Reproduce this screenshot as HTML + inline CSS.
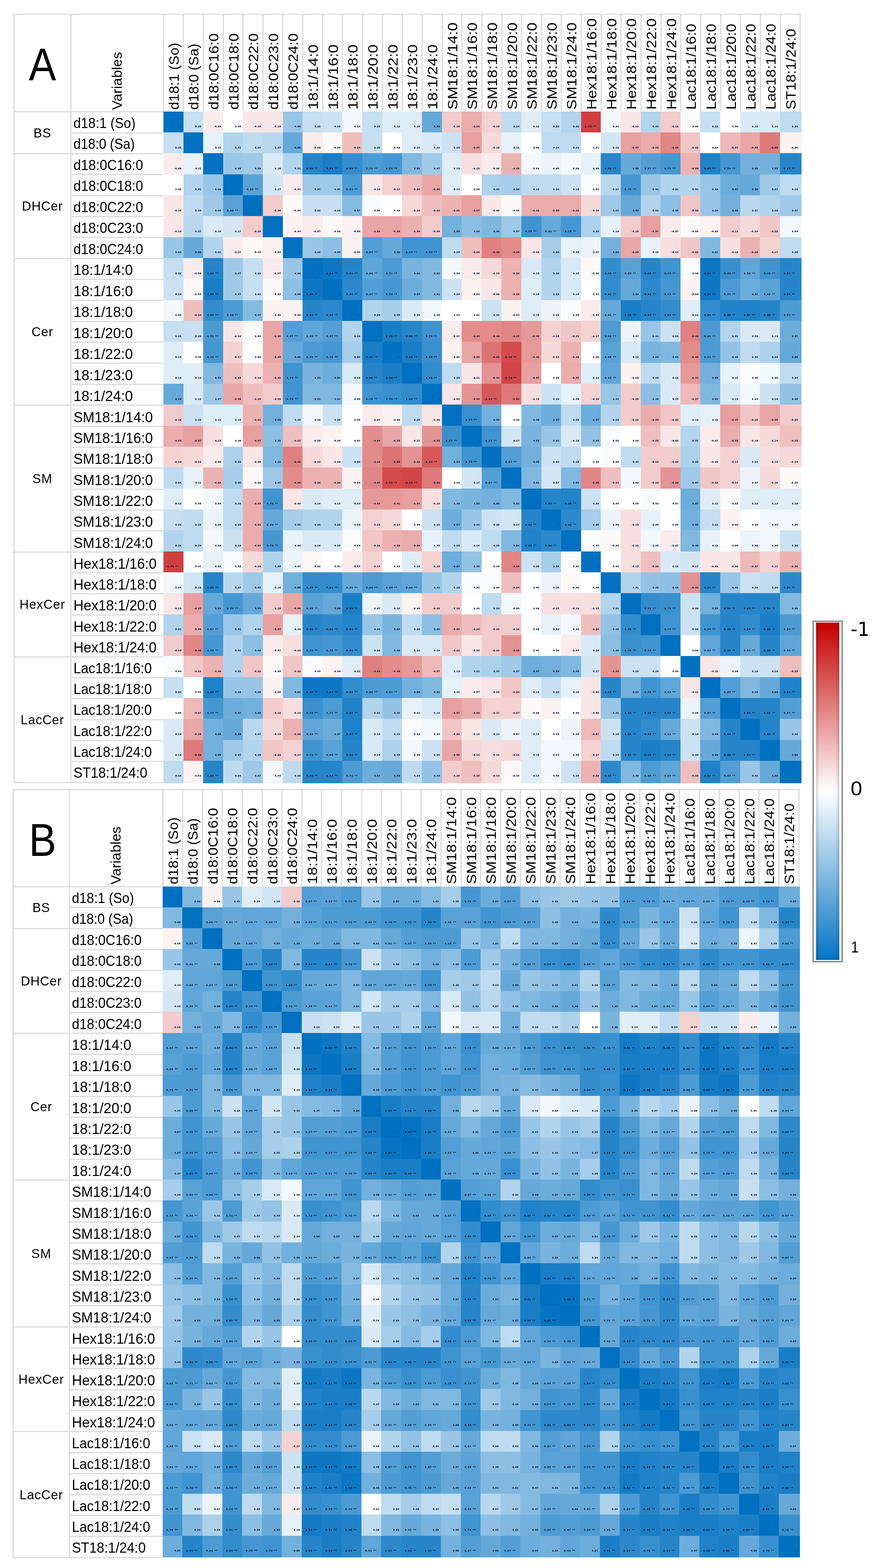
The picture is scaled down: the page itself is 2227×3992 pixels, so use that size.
<!DOCTYPE html>
<html lang="en"><head><meta charset="utf-8"><title>Sphingolipid correlation heatmaps</title>
<style>
html,body{margin:0;padding:0;background:#fff}
body{width:2227px;height:3992px;position:relative;overflow:hidden;font-family:"Liberation Sans",sans-serif;color:#000}
.t{position:absolute;left:0;top:0}
.b{position:absolute;background:#dbdbdb}
.hm{position:absolute;display:grid}
.hm i{display:block;font-style:normal;font-size:4.6px;line-height:6px;text-align:right;color:#02102c;padding:36.5px 4px 0 0;overflow:hidden;white-space:nowrap;letter-spacing:1.7px;font-weight:bold;-webkit-text-stroke:0.55px #02102c}
.hm i.L{padding-right:11px;letter-spacing:2.2px}
.hm i.D{color:#0a4a86;-webkit-text-stroke:0.2px #0a4a86}
.hm i:nth-child(32n){padding-right:8px}
.hm i.L:nth-child(32n){padding-right:15px}
.rl{position:absolute;white-space:nowrap;font-size:34.6px;transform-origin:0 50%}
.gl{position:absolute;white-space:nowrap;font-size:32.5px;text-align:center;letter-spacing:1px}
.ch{position:absolute;white-space:nowrap;font-size:34.6px;transform-origin:0 0}
.big{position:absolute;white-space:nowrap;font-size:116px;text-align:center;transform:scale(0.9,1)}
.cbl{position:absolute;white-space:nowrap}
.n10{background:#efbfbf}
.n11{background:#eeb9b9}
.n12{background:#ecb2b2}
.n13{background:#ebacac}
.n14{background:#e9a6a6}
.n15{background:#e79f9f}
.n16{background:#e69999}
.n17{background:#e49393}
.n18{background:#e38c8c}
.n19{background:#e18686}
.n1{background:#fdf9f9}
.n20{background:#e08080}
.n21{background:#de7979}
.n22{background:#dc7373}
.n26{background:#d65959}
.n28{background:#d34c4c}
.n29{background:#d14646}
.n2{background:#fcf2f2}
.n30{background:#d04040}
.n3{background:#faecec}
.n4{background:#f9e6e6}
.n5{background:#f7dfdf}
.n6{background:#f6d9d9}
.n7{background:#f4d2d2}
.n8{background:#f2cccc}
.n9{background:#f1c6c6}
.p0{background:#ffffff}
.p10{background:#bfdbef}
.p11{background:#b9d8ee}
.p12{background:#b2d4ec}
.p13{background:#acd1eb}
.p14{background:#a6cde9}
.p15{background:#9fc9e7}
.p16{background:#99c6e6}
.p17{background:#93c2e4}
.p18{background:#8cbfe3}
.p19{background:#86bbe1}
.p1{background:#f9fbfd}
.p20{background:#80b8e0}
.p21{background:#79b4de}
.p22{background:#73b0dc}
.p23{background:#6caddb}
.p24{background:#66a9d9}
.p25{background:#60a6d8}
.p26{background:#59a2d6}
.p27{background:#539ed4}
.p28{background:#4c9bd3}
.p29{background:#4697d1}
.p2{background:#f2f8fc}
.p30{background:#4094d0}
.p31{background:#3990ce}
.p32{background:#338dcd}
.p33{background:#2d89cb}
.p34{background:#2685c9}
.p35{background:#2082c8}
.p36{background:#1a7ec6}
.p37{background:#137bc5}
.p38{background:#0d77c3}
.p39{background:#0674c2}
.p3{background:#ecf4fa}
.p40{background:#0070c0}
.p4{background:#e6f1f9}
.p5{background:#dfedf7}
.p6{background:#d9eaf6}
.p7{background:#d2e6f4}
.p8{background:#cce2f2}
.p9{background:#c6dff1}
</style></head>
<body>
<section class="t" id="table-a">
<div class="b" style="left:34.3px;top:34.5px;width:2003.8px;height:3.0px"></div><div class="b" style="left:34.3px;top:34.5px;width:3.0px;height:1959.2px"></div><div class="b" style="left:34.3px;top:1990.7px;width:381.8px;height:3.0px"></div><div class="b" style="left:34.3px;top:283.1px;width:381.8px;height:3.0px"></div><div class="b" style="left:178.5px;top:34.5px;width:3.0px;height:1959.2px"></div><div class="b" style="left:414.6px;top:34.5px;width:3.0px;height:248.6px"></div><div class="b" style="left:465.2px;top:34.5px;width:3.0px;height:248.6px"></div><div class="b" style="left:515.9px;top:34.5px;width:3.0px;height:248.6px"></div><div class="b" style="left:566.5px;top:34.5px;width:3.0px;height:248.6px"></div><div class="b" style="left:617.2px;top:34.5px;width:3.0px;height:248.6px"></div><div class="b" style="left:667.8px;top:34.5px;width:3.0px;height:248.6px"></div><div class="b" style="left:718.4px;top:34.5px;width:3.0px;height:248.6px"></div><div class="b" style="left:769.1px;top:34.5px;width:3.0px;height:248.6px"></div><div class="b" style="left:819.7px;top:34.5px;width:3.0px;height:248.6px"></div><div class="b" style="left:870.4px;top:34.5px;width:3.0px;height:248.6px"></div><div class="b" style="left:921.0px;top:34.5px;width:3.0px;height:248.6px"></div><div class="b" style="left:971.6px;top:34.5px;width:3.0px;height:248.6px"></div><div class="b" style="left:1022.3px;top:34.5px;width:3.0px;height:248.6px"></div><div class="b" style="left:1072.9px;top:34.5px;width:3.0px;height:248.6px"></div><div class="b" style="left:1123.6px;top:34.5px;width:3.0px;height:248.6px"></div><div class="b" style="left:1174.2px;top:34.5px;width:3.0px;height:248.6px"></div><div class="b" style="left:1224.8px;top:34.5px;width:3.0px;height:248.6px"></div><div class="b" style="left:1275.5px;top:34.5px;width:3.0px;height:248.6px"></div><div class="b" style="left:1326.1px;top:34.5px;width:3.0px;height:248.6px"></div><div class="b" style="left:1376.8px;top:34.5px;width:3.0px;height:248.6px"></div><div class="b" style="left:1427.4px;top:34.5px;width:3.0px;height:248.6px"></div><div class="b" style="left:1478.1px;top:34.5px;width:3.0px;height:248.6px"></div><div class="b" style="left:1528.7px;top:34.5px;width:3.0px;height:248.6px"></div><div class="b" style="left:1579.3px;top:34.5px;width:3.0px;height:248.6px"></div><div class="b" style="left:1630.0px;top:34.5px;width:3.0px;height:248.6px"></div><div class="b" style="left:1680.6px;top:34.5px;width:3.0px;height:248.6px"></div><div class="b" style="left:1731.3px;top:34.5px;width:3.0px;height:248.6px"></div><div class="b" style="left:1781.9px;top:34.5px;width:3.0px;height:248.6px"></div><div class="b" style="left:1832.5px;top:34.5px;width:3.0px;height:248.6px"></div><div class="b" style="left:1883.2px;top:34.5px;width:3.0px;height:248.6px"></div><div class="b" style="left:1933.8px;top:34.5px;width:3.0px;height:248.6px"></div><div class="b" style="left:1984.5px;top:34.5px;width:3.0px;height:248.6px"></div><div class="b" style="left:2035.1px;top:34.5px;width:3.0px;height:248.6px"></div><div class="b" style="left:180.0px;top:336.5px;width:236.1px;height:3.0px"></div><div class="b" style="left:180.0px;top:389.8px;width:236.1px;height:3.0px"></div><div class="b" style="left:180.0px;top:443.2px;width:236.1px;height:3.0px"></div><div class="b" style="left:180.0px;top:496.6px;width:236.1px;height:3.0px"></div><div class="b" style="left:180.0px;top:549.9px;width:236.1px;height:3.0px"></div><div class="b" style="left:180.0px;top:603.3px;width:236.1px;height:3.0px"></div><div class="b" style="left:180.0px;top:656.6px;width:236.1px;height:3.0px"></div><div class="b" style="left:180.0px;top:710.0px;width:236.1px;height:3.0px"></div><div class="b" style="left:180.0px;top:763.4px;width:236.1px;height:3.0px"></div><div class="b" style="left:180.0px;top:816.7px;width:236.1px;height:3.0px"></div><div class="b" style="left:180.0px;top:870.1px;width:236.1px;height:3.0px"></div><div class="b" style="left:180.0px;top:923.4px;width:236.1px;height:3.0px"></div><div class="b" style="left:180.0px;top:976.8px;width:236.1px;height:3.0px"></div><div class="b" style="left:180.0px;top:1030.2px;width:236.1px;height:3.0px"></div><div class="b" style="left:180.0px;top:1083.5px;width:236.1px;height:3.0px"></div><div class="b" style="left:180.0px;top:1136.9px;width:236.1px;height:3.0px"></div><div class="b" style="left:180.0px;top:1190.3px;width:236.1px;height:3.0px"></div><div class="b" style="left:180.0px;top:1243.6px;width:236.1px;height:3.0px"></div><div class="b" style="left:180.0px;top:1297.0px;width:236.1px;height:3.0px"></div><div class="b" style="left:180.0px;top:1350.3px;width:236.1px;height:3.0px"></div><div class="b" style="left:180.0px;top:1403.7px;width:236.1px;height:3.0px"></div><div class="b" style="left:180.0px;top:1457.1px;width:236.1px;height:3.0px"></div><div class="b" style="left:180.0px;top:1510.4px;width:236.1px;height:3.0px"></div><div class="b" style="left:180.0px;top:1563.8px;width:236.1px;height:3.0px"></div><div class="b" style="left:180.0px;top:1617.2px;width:236.1px;height:3.0px"></div><div class="b" style="left:180.0px;top:1670.5px;width:236.1px;height:3.0px"></div><div class="b" style="left:180.0px;top:1723.9px;width:236.1px;height:3.0px"></div><div class="b" style="left:180.0px;top:1777.2px;width:236.1px;height:3.0px"></div><div class="b" style="left:180.0px;top:1830.6px;width:236.1px;height:3.0px"></div><div class="b" style="left:180.0px;top:1884.0px;width:236.1px;height:3.0px"></div><div class="b" style="left:180.0px;top:1937.3px;width:236.1px;height:3.0px"></div><div class="b" style="left:35.8px;top:389.8px;width:144.2px;height:3.0px"></div><div class="b" style="left:35.8px;top:656.6px;width:144.2px;height:3.0px"></div><div class="b" style="left:35.8px;top:1030.2px;width:144.2px;height:3.0px"></div><div class="b" style="left:35.8px;top:1403.7px;width:144.2px;height:3.0px"></div><div class="b" style="left:35.8px;top:1670.5px;width:144.2px;height:3.0px"></div>
<div class="hm" style="left:416px;top:283.8px;grid-template-columns:repeat(31,50.615px) 54.8px;grid-template-rows:repeat(31,53.34px) 56.7px">
<i class="p40 D">1</i><i class="p9">0.22</i><i class="n3">-0.08</i><i class="p0">0.00</i><i class="n4">-0.10</i><i class="n4">-0.10</i><i class="p16">0.39</i><i class="p9">0.22</i><i class="p8">0.19</i><i class="p2">0.04</i><i class="p9">0.22</i><i class="p5">0.12</i><i class="p5">0.13</i><i class="p24">0.59</i><i class="n8">-0.19</i><i class="n13">-0.33</i><i class="n7">-0.18</i><i class="p10">0.24</i><i class="p5">0.12</i><i class="p9">0.22</i><i class="p12">0.29</i><i class="n30 L">-0.75 **</i><i class="p2">0.04</i><i class="n4">-0.10</i><i class="p12">0.31</i><i class="n8">-0.19</i><i class="p1">0.03</i><i class="p9">0.22</i><i class="p0">0.00</i><i class="p6">0.16</i><i class="p6">0.14</i><i class="p10">0.24</i>
<i class="p9">0.22</i><i class="p40 D">1</i><i class="p4">0.11</i><i class="p12">0.31</i><i class="p10">0.24</i><i class="p11">0.27</i><i class="p24">0.59</i><i class="n3">-0.08</i><i class="n1">-0.03</i><i class="n10">-0.24</i><i class="p9">0.22</i><i class="p0">0.00</i><i class="p5">0.12</i><i class="p6">0.14</i><i class="p8">0.20</i><i class="n15">-0.37</i><i class="n6">-0.16</i><i class="p4">0.11</i><i class="p0">0.00</i><i class="p10">0.24</i><i class="p10">0.24</i><i class="p0">0.01</i><i class="p7">0.18</i><i class="n15">-0.37</i><i class="n13">-0.33</i><i class="n19">-0.48</i><i class="n9">-0.22</i><i class="p0">0.00</i><i class="n11">-0.27</i><i class="n14">-0.35</i><i class="n21">-0.53</i><i class="n2">-0.04</i>
<i class="n3">-0.08</i><i class="p4">0.11</i><i class="p40 D">1</i><i class="p16">0.39</i><i class="p15">0.38</i><i class="p6">0.16</i><i class="p12">0.31</i><i class="p34 L">0.86 **</i><i class="p36 L">0.89 **</i><i class="p32 L">0.80 **</i><i class="p28 L">0.71 **</i><i class="p29 L">0.72 **</i><i class="p20">0.51</i><i class="p15">0.37</i><i class="p5">0.12</i><i class="n5">-0.13</i><i class="n3">-0.08</i><i class="n12">-0.29</i><i class="p2">0.04</i><i class="p3">0.08</i><i class="p2">0.06</i><i class="p4">0.09</i><i class="p34 L">0.85 **</i><i class="p24">0.59</i><i class="p27 L">0.67 **</i><i class="p29 L">0.73 **</i><i class="n12">-0.30</i><i class="p35 L">0.88 **</i><i class="p29 L">0.73 **</i><i class="p22">0.55</i><i class="p22">0.55</i><i class="p34 L">0.85 **</i>
<i class="p0">0.00</i><i class="p12">0.31</i><i class="p16">0.39</i><i class="p40 D">1</i><i class="p26 L">0.65 **</i><i class="p7">0.17</i><i class="n3">-0.07</i><i class="p15">0.37</i><i class="p15">0.37</i><i class="p28 L">0.69 **</i><i class="n4">-0.10</i><i class="n7">-0.17</i><i class="n10">-0.24</i><i class="n14">-0.35</i><i class="p5">0.13</i><i class="p0">0.00</i><i class="p13">0.33</i><i class="p14">0.35</i><i class="p10">0.24</i><i class="p10">0.24</i><i class="p8">0.19</i><i class="p1">0.02</i><i class="p11">0.27</i><i class="p29 L">0.73 **</i><i class="p16">0.41</i><i class="p12">0.31</i><i class="p12">0.31</i><i class="p16">0.39</i><i class="p23">0.57</i><i class="p24">0.59</i><i class="p15">0.37</i><i class="p10">0.24</i>
<i class="n4">-0.10</i><i class="p10">0.24</i><i class="p15">0.38</i><i class="p26 L">0.65 **</i><i class="p40 D">1</i><i class="n8">-0.20</i><i class="n1">-0.03</i><i class="p9">0.22</i><i class="p9">0.22</i><i class="p19">0.47</i><i class="p1">0.03</i><i class="p0">0.00</i><i class="n6">-0.16</i><i class="n10">-0.24</i><i class="n12">-0.31</i><i class="n15">-0.37</i><i class="n4">-0.09</i><i class="n1">-0.02</i><i class="n13">-0.33</i><i class="n13">-0.33</i><i class="n13">-0.33</i><i class="n6">-0.15</i><i class="p15">0.37</i><i class="p24">0.59</i><i class="p12">0.31</i><i class="p18">0.45</i><i class="n9">-0.22</i><i class="p16">0.39</i><i class="p22">0.55</i><i class="p11">0.27</i><i class="p12">0.29</i><i class="p15">0.37</i>
<i class="n4">-0.10</i><i class="p11">0.27</i><i class="p6">0.16</i><i class="p7">0.17</i><i class="n8">-0.20</i><i class="p40 D">1</i><i class="n2">-0.04</i><i class="n3">-0.07</i><i class="n1">-0.02</i><i class="n2">-0.06</i><i class="n14">-0.35</i><i class="n14">-0.35</i><i class="n12">-0.30</i><i class="n8">-0.20</i><i class="p22">0.55</i><i class="p18">0.45</i><i class="p20">0.49</i><i class="p15">0.37</i><i class="p30 L">0.76 **</i><i class="p24 L">0.61 **</i><i class="p29 L">0.73 **</i><i class="p13">0.33</i><i class="p4">0.10</i><i class="n8">-0.19</i><i class="n15">-0.37</i><i class="n3">-0.07</i><i class="n1">-0.03</i><i class="n2">-0.05</i><i class="n8">-0.19</i><i class="n6">-0.14</i><i class="n9">-0.22</i><i class="p2">0.04</i>
<i class="p16">0.39</i><i class="p24">0.59</i><i class="p12">0.31</i><i class="n3">-0.07</i><i class="n1">-0.03</i><i class="n2">-0.04</i><i class="p40 D">1</i><i class="p16">0.39</i><i class="p18">0.45</i><i class="n2">-0.06</i><i class="p27 L">0.67 **</i><i class="p24">0.59</i><i class="p30 L">0.74 **</i><i class="p30 L">0.74 **</i><i class="p10">0.25</i><i class="n10">-0.26</i><i class="n20">-0.49</i><i class="n18">-0.45</i><i class="n4">-0.09</i><i class="p14">0.35</i><i class="p4">0.09</i><i class="p3">0.07</i><i class="p22">0.55</i><i class="n14">-0.35</i><i class="p4">0.10</i><i class="n5">-0.12</i><i class="n9">-0.22</i><i class="p20">0.51</i><i class="n5">-0.12</i><i class="n12">-0.29</i><i class="n7">-0.17</i><i class="p10">0.25</i>
<i class="p9">0.22</i><i class="n3">-0.08</i><i class="p34 L">0.86 **</i><i class="p15">0.37</i><i class="p9">0.22</i><i class="n3">-0.07</i><i class="p16">0.39</i><i class="p40 D">1</i><i class="p38 L">0.94 **</i><i class="p34 L">0.84 **</i><i class="p25 L">0.63 **</i><i class="p28 L">0.71 **</i><i class="p21">0.53</i><i class="p20">0.51</i><i class="p2">0.06</i><i class="n3">-0.08</i><i class="n6">-0.15</i><i class="n12">-0.29</i><i class="p6">0.16</i><i class="p12">0.29</i><i class="p6">0.16</i><i class="n1">-0.02</i><i class="p32 L">0.80 **</i><i class="p26 L">0.65 **</i><i class="p34 L">0.85 **</i><i class="p30 L">0.74 **</i><i class="p1">0.03</i><i class="p38 L">0.94 **</i><i class="p31 L">0.78 **</i><i class="p25 L">0.63 **</i><i class="p30 L">0.76 **</i><i class="p34 L">0.85 **</i>
<i class="p8">0.19</i><i class="n1">-0.03</i><i class="p36 L">0.89 **</i><i class="p15">0.37</i><i class="p9">0.22</i><i class="n1">-0.02</i><i class="p18">0.45</i><i class="p38 L">0.94 **</i><i class="p40 D">1</i><i class="p33 L">0.82 **</i><i class="p27 L">0.67 **</i><i class="p29 L">0.72 **</i><i class="p23">0.57</i><i class="p20">0.51</i><i class="p8">0.20</i><i class="n2">-0.04</i><i class="n4">-0.09</i><i class="n12">-0.29</i><i class="p5">0.13</i><i class="p12">0.29</i><i class="p6">0.14</i><i class="p0">0.01</i><i class="p32 L">0.81 **</i><i class="p24">0.59</i><i class="p33 L">0.82 **</i><i class="p29 L">0.72 **</i><i class="n2">-0.04</i><i class="p38 L">0.94 **</i><i class="p28 L">0.71 **</i><i class="p23">0.57</i><i class="p26 L">0.65 **</i><i class="p34 L">0.84 **</i>
<i class="p2">0.04</i><i class="n10">-0.24</i><i class="p32 L">0.80 **</i><i class="p28 L">0.69 **</i><i class="p19">0.47</i><i class="n2">-0.06</i><i class="n2">-0.06</i><i class="p34 L">0.84 **</i><i class="p33 L">0.82 **</i><i class="p40 D">1</i><i class="p12">0.29</i><i class="p14">0.35</i><i class="p6">0.16</i><i class="p2">0.06</i><i class="p0">0.00</i><i class="p0">0.01</i><i class="p8">0.20</i><i class="n2">-0.04</i><i class="p5">0.13</i><i class="p3">0.08</i><i class="p1">0.03</i><i class="n3">-0.07</i><i class="p24 L">0.61 **</i><i class="p36 L">0.90 **</i><i class="p34 L">0.84 **</i><i class="p32 L">0.80 **</i><i class="p5">0.12</i><i class="p32 L">0.80 **</i><i class="p35 L">0.88 **</i><i class="p35 L">0.87 **</i><i class="p34 L">0.85 **</i><i class="p28 L">0.71 **</i>
<i class="p9">0.22</i><i class="p9">0.22</i><i class="p28 L">0.71 **</i><i class="n4">-0.10</i><i class="p1">0.03</i><i class="n14">-0.35</i><i class="p27 L">0.67 **</i><i class="p25 L">0.63 **</i><i class="p27 L">0.67 **</i><i class="p12">0.29</i><i class="p40 D">1</i><i class="p36 L">0.91 **</i><i class="p34 L">0.86 **</i><i class="p30 L">0.76 **</i><i class="n3">-0.07</i><i class="n18">-0.44</i><i class="n18">-0.46</i><i class="n19">-0.47</i><i class="n16">-0.40</i><i class="n7">-0.18</i><i class="n9">-0.22</i><i class="n7">-0.17</i><i class="p28 L">0.69 **</i><i class="p3">0.07</i><i class="p16">0.41</i><i class="p8">0.20</i><i class="n20">-0.49</i><i class="p28 L">0.69 **</i><i class="p12">0.31</i><i class="p6">0.15</i><i class="p6">0.14</i><i class="p23">0.57</i>
<i class="p5">0.12</i><i class="p0">0.00</i><i class="p29 L">0.72 **</i><i class="n7">-0.17</i><i class="p0">0.00</i><i class="n14">-0.35</i><i class="p24">0.59</i><i class="p28 L">0.71 **</i><i class="p29 L">0.72 **</i><i class="p14">0.35</i><i class="p36 L">0.91 **</i><i class="p40 D">1</i><i class="p36 L">0.89 **</i><i class="p31 L">0.78 **</i><i class="n2">-0.06</i><i class="n14">-0.35</i><i class="n22">-0.55</i><i class="n28 L">-0.70 **</i><i class="n16">-0.41</i><i class="n6">-0.14</i><i class="n12">-0.29</i><i class="p0">0.00</i><i class="p26 L">0.65 **</i><i class="p6">0.16</i><i class="p21">0.53</i><i class="p20">0.49</i><i class="n18">-0.45</i><i class="p28 L">0.71 **</i><i class="p17">0.43</i><i class="p10">0.24</i><i class="p13">0.33</i><i class="p24">0.59</i>
<i class="p5">0.13</i><i class="p5">0.12</i><i class="p20">0.51</i><i class="n10">-0.24</i><i class="n6">-0.16</i><i class="n12">-0.30</i><i class="p30 L">0.74 **</i><i class="p21">0.53</i><i class="p23">0.57</i><i class="p6">0.16</i><i class="p34 L">0.86 **</i><i class="p36 L">0.89 **</i><i class="p40 D">1</i><i class="p32 L">0.80 **</i><i class="p10">0.25</i><i class="n4">-0.11</i><i class="n17">-0.42</i><i class="n29 L">-0.72 **</i><i class="n15">-0.37</i><i class="p0">0.00</i><i class="n13">-0.33</i><i class="p5">0.12</i><i class="p25 L">0.63 **</i><i class="n2">-0.06</i><i class="p10">0.25</i><i class="p6">0.15</i><i class="n16">-0.41</i><i class="p22">0.55</i><i class="p4">0.11</i><i class="p1">0.02</i><i class="p2">0.05</i><i class="p10">0.24</i>
<i class="p24">0.59</i><i class="p6">0.14</i><i class="p15">0.37</i><i class="n14">-0.35</i><i class="n10">-0.24</i><i class="n8">-0.20</i><i class="p30 L">0.74 **</i><i class="p20">0.51</i><i class="p20">0.51</i><i class="p2">0.06</i><i class="p30 L">0.76 **</i><i class="p31 L">0.78 **</i><i class="p32 L">0.80 **</i><i class="p40 D">1</i><i class="n4">-0.09</i><i class="n17">-0.43</i><i class="n26 L">-0.64 **</i><i class="n21">-0.52</i><i class="n5">-0.13</i><i class="p8">0.19</i><i class="p4">0.09</i><i class="n7">-0.18</i><i class="p16">0.41</i><i class="n8">-0.20</i><i class="p18">0.45</i><i class="p6">0.16</i><i class="n11">-0.27</i><i class="p20">0.51</i><i class="p6">0.14</i><i class="p2">0.04</i><i class="p8">0.20</i><i class="p17">0.43</i>
<i class="n8">-0.19</i><i class="p8">0.20</i><i class="p5">0.12</i><i class="p5">0.13</i><i class="n12">-0.31</i><i class="p22">0.55</i><i class="p10">0.25</i><i class="p2">0.06</i><i class="p8">0.20</i><i class="p0">0.00</i><i class="n3">-0.07</i><i class="n2">-0.06</i><i class="p10">0.25</i><i class="n4">-0.09</i><i class="p40 D">1</i><i class="p31 L">0.77 **</i><i class="p22">0.54</i><i class="p0">0.00</i><i class="p20">0.49</i><i class="p23">0.57</i><i class="p10">0.25</i><i class="p23">0.57</i><i class="p12">0.29</i><i class="n8">-0.19</i><i class="n13">-0.33</i><i class="n9">-0.22</i><i class="p5">0.12</i><i class="p4">0.11</i><i class="n15">-0.37</i><i class="n9">-0.22</i><i class="n14">-0.35</i><i class="n8">-0.20</i>
<i class="n13">-0.33</i><i class="n15">-0.37</i><i class="n5">-0.13</i><i class="p0">0.00</i><i class="n15">-0.37</i><i class="p18">0.45</i><i class="n10">-0.26</i><i class="n3">-0.08</i><i class="n2">-0.04</i><i class="p0">0.01</i><i class="n18">-0.44</i><i class="n14">-0.35</i><i class="n4">-0.11</i><i class="n17">-0.43</i><i class="p31 L">0.77 **</i><i class="p40 D">1</i><i class="p30 L">0.75 **</i><i class="p7">0.17</i><i class="p21">0.52</i><i class="p16">0.41</i><i class="p6">0.16</i><i class="p17">0.43</i><i class="p1">0.02</i><i class="p0">0.00</i><i class="n10">-0.25</i><i class="n4">-0.09</i><i class="p12">0.31</i><i class="n3">-0.07</i><i class="n13">-0.32</i><i class="n4">-0.10</i><i class="n6">-0.14</i><i class="n10">-0.25</i>
<i class="n7">-0.18</i><i class="n6">-0.16</i><i class="n3">-0.08</i><i class="p13">0.33</i><i class="n4">-0.09</i><i class="p20">0.49</i><i class="n20">-0.49</i><i class="n6">-0.15</i><i class="n4">-0.09</i><i class="p8">0.20</i><i class="n18">-0.46</i><i class="n22">-0.55</i><i class="n17">-0.42</i><i class="n26 L">-0.64 **</i><i class="p22">0.54</i><i class="p30 L">0.75 **</i><i class="p40 D">1</i><i class="p27 L">0.67 **</i><i class="p22">0.55</i><i class="p8">0.20</i><i class="p10">0.25</i><i class="p0">0.00</i><i class="p1">0.03</i><i class="p10">0.24</i><i class="n8">-0.20</i><i class="n8">-0.20</i><i class="p13">0.33</i><i class="n4">-0.09</i><i class="n7">-0.17</i><i class="p6">0.14</i><i class="n5">-0.13</i><i class="n6">-0.14</i>
<i class="p10">0.24</i><i class="p4">0.11</i><i class="n12">-0.29</i><i class="p14">0.35</i><i class="n1">-0.02</i><i class="p15">0.37</i><i class="n18">-0.45</i><i class="n12">-0.29</i><i class="n12">-0.29</i><i class="n2">-0.04</i><i class="n19">-0.47</i><i class="n28 L">-0.70 **</i><i class="n29 L">-0.72 **</i><i class="n21">-0.52</i><i class="p0">0.00</i><i class="p7">0.17</i><i class="p27 L">0.67 **</i><i class="p40 D">1</i><i class="p20">0.51</i><i class="p7">0.17</i><i class="p20">0.51</i><i class="n19">-0.48</i><i class="n10">-0.24</i><i class="p2">0.06</i><i class="n8">-0.19</i><i class="n17">-0.42</i><i class="p15">0.37</i><i class="n9">-0.22</i><i class="n7">-0.17</i><i class="p3">0.07</i><i class="n6">-0.16</i><i class="n1">-0.03</i>
<i class="p5">0.12</i><i class="p0">0.00</i><i class="p2">0.04</i><i class="p10">0.24</i><i class="n13">-0.33</i><i class="p30 L">0.76 **</i><i class="n4">-0.09</i><i class="p6">0.16</i><i class="p5">0.13</i><i class="p5">0.13</i><i class="n16">-0.40</i><i class="n16">-0.41</i><i class="n15">-0.37</i><i class="n5">-0.13</i><i class="p20">0.49</i><i class="p21">0.52</i><i class="p22">0.55</i><i class="p20">0.51</i><i class="p40 D">1</i><i class="p34 L">0.86 **</i><i class="p35 L">0.88 **</i><i class="p8">0.20</i><i class="p0">0.00</i><i class="p0">0.00</i><i class="p1">0.02</i><i class="p0">0.01</i><i class="p23">0.57</i><i class="p5">0.12</i><i class="n1">-0.02</i><i class="p5">0.13</i><i class="p5">0.12</i><i class="p5">0.13</i>
<i class="p9">0.22</i><i class="p10">0.24</i><i class="p3">0.08</i><i class="p10">0.24</i><i class="n13">-0.33</i><i class="p24 L">0.61 **</i><i class="p14">0.35</i><i class="p12">0.29</i><i class="p12">0.29</i><i class="p3">0.08</i><i class="n7">-0.18</i><i class="n6">-0.14</i><i class="p0">0.00</i><i class="p8">0.19</i><i class="p23">0.57</i><i class="p16">0.41</i><i class="p8">0.20</i><i class="p7">0.17</i><i class="p34 L">0.86 **</i><i class="p40 D">1</i><i class="p33 L">0.82 **</i><i class="p14">0.35</i><i class="p3">0.08</i><i class="n5">-0.13</i><i class="p4">0.09</i><i class="p0">0.00</i><i class="p22">0.56</i><i class="p9">0.22</i><i class="n2">-0.06</i><i class="p0">0.00</i><i class="p2">0.04</i><i class="p2">0.06</i>
<i class="p12">0.29</i><i class="p10">0.24</i><i class="p2">0.06</i><i class="p8">0.19</i><i class="n13">-0.33</i><i class="p29 L">0.73 **</i><i class="p4">0.09</i><i class="p6">0.16</i><i class="p6">0.14</i><i class="p1">0.03</i><i class="n9">-0.22</i><i class="n12">-0.29</i><i class="n13">-0.33</i><i class="p4">0.09</i><i class="p10">0.25</i><i class="p6">0.16</i><i class="p10">0.25</i><i class="p20">0.51</i><i class="p35 L">0.88 **</i><i class="p33 L">0.82 **</i><i class="p40 D">1</i><i class="p1">0.03</i><i class="n1">-0.02</i><i class="n5">-0.13</i><i class="p2">0.05</i><i class="n3">-0.07</i><i class="p20">0.49</i><i class="p4">0.11</i><i class="p0">0.00</i><i class="p3">0.08</i><i class="p2">0.06</i><i class="p8">0.20</i>
<i class="n30 L">-0.75 **</i><i class="p0">0.01</i><i class="p4">0.09</i><i class="p1">0.02</i><i class="n6">-0.15</i><i class="p13">0.33</i><i class="p3">0.07</i><i class="n1">-0.02</i><i class="p0">0.01</i><i class="n3">-0.07</i><i class="n7">-0.17</i><i class="p0">0.00</i><i class="p5">0.12</i><i class="n7">-0.18</i><i class="p23">0.57</i><i class="p17">0.43</i><i class="p0">0.00</i><i class="n19">-0.48</i><i class="p8">0.20</i><i class="p14">0.35</i><i class="p1">0.03</i><i class="p40 D">1</i><i class="p0">0.00</i><i class="n5">-0.13</i><i class="n10">-0.25</i><i class="p6">0.16</i><i class="p7">0.17</i><i class="n4">-0.09</i><i class="n4">-0.09</i><i class="n11">-0.27</i><i class="n7">-0.17</i><i class="n12">-0.29</i>
<i class="p2">0.04</i><i class="p7">0.18</i><i class="p34 L">0.85 **</i><i class="p11">0.27</i><i class="p15">0.37</i><i class="p4">0.10</i><i class="p22">0.55</i><i class="p32 L">0.80 **</i><i class="p32 L">0.81 **</i><i class="p24 L">0.61 **</i><i class="p28 L">0.69 **</i><i class="p26 L">0.65 **</i><i class="p25 L">0.63 **</i><i class="p16">0.41</i><i class="p12">0.29</i><i class="p1">0.02</i><i class="p1">0.03</i><i class="n10">-0.24</i><i class="p0">0.00</i><i class="p3">0.08</i><i class="n1">-0.02</i><i class="p0">0.00</i><i class="p40 D">1</i><i class="p12">0.31</i><i class="p17">0.43</i><i class="p18">0.45</i><i class="n17">-0.43</i><i class="p34 L">0.86 **</i><i class="p16">0.41</i><i class="p8">0.19</i><i class="p10">0.24</i><i class="p33 L">0.82 **</i>
<i class="n4">-0.10</i><i class="n15">-0.37</i><i class="p24">0.59</i><i class="p29 L">0.73 **</i><i class="p24">0.59</i><i class="n8">-0.19</i><i class="n14">-0.35</i><i class="p26 L">0.65 **</i><i class="p24">0.59</i><i class="p36 L">0.90 **</i><i class="p3">0.07</i><i class="p6">0.16</i><i class="n2">-0.06</i><i class="n8">-0.20</i><i class="n8">-0.19</i><i class="p0">0.00</i><i class="p10">0.24</i><i class="p2">0.06</i><i class="p0">0.00</i><i class="n5">-0.13</i><i class="n5">-0.13</i><i class="n5">-0.13</i><i class="p12">0.31</i><i class="p40 D">1</i><i class="p32 L">0.80 **</i><i class="p31 L">0.78 **</i><i class="p8">0.20</i><i class="p22">0.55</i><i class="p34 L">0.86 **</i><i class="p34 L">0.86 **</i><i class="p34 L">0.84 **</i><i class="p20">0.49</i>
<i class="p12">0.31</i><i class="n13">-0.33</i><i class="p27 L">0.67 **</i><i class="p16">0.41</i><i class="p12">0.31</i><i class="n15">-0.37</i><i class="p4">0.10</i><i class="p34 L">0.85 **</i><i class="p33 L">0.82 **</i><i class="p34 L">0.84 **</i><i class="p16">0.41</i><i class="p21">0.53</i><i class="p10">0.25</i><i class="p18">0.45</i><i class="n13">-0.33</i><i class="n10">-0.25</i><i class="n8">-0.20</i><i class="n8">-0.19</i><i class="p1">0.02</i><i class="p4">0.09</i><i class="p2">0.05</i><i class="n10">-0.25</i><i class="p17">0.43</i><i class="p32 L">0.80 **</i><i class="p40 D">1</i><i class="p30 L">0.74 **</i><i class="p8">0.20</i><i class="p30 L">0.76 **</i><i class="p34 L">0.85 **</i><i class="p32 L">0.80 **</i><i class="p36 L">0.90 **</i><i class="p28 L">0.69 **</i>
<i class="n8">-0.19</i><i class="n19">-0.48</i><i class="p29 L">0.73 **</i><i class="p12">0.31</i><i class="p18">0.45</i><i class="n3">-0.07</i><i class="n5">-0.12</i><i class="p30 L">0.74 **</i><i class="p29 L">0.72 **</i><i class="p32 L">0.80 **</i><i class="p8">0.20</i><i class="p20">0.49</i><i class="p6">0.15</i><i class="p6">0.16</i><i class="n9">-0.22</i><i class="n4">-0.09</i><i class="n8">-0.20</i><i class="n17">-0.42</i><i class="p0">0.01</i><i class="p0">0.00</i><i class="n3">-0.07</i><i class="p6">0.16</i><i class="p18">0.45</i><i class="p31 L">0.78 **</i><i class="p30 L">0.74 **</i><i class="p40 D">1</i><i class="p0">0.00</i><i class="p25 L">0.63 **</i><i class="p34 L">0.86 **</i><i class="p24 L">0.61 **</i><i class="p34 L">0.86 **</i><i class="p25 L">0.63 **</i>
<i class="p1">0.03</i><i class="n9">-0.22</i><i class="n12">-0.30</i><i class="p12">0.31</i><i class="n9">-0.22</i><i class="n1">-0.03</i><i class="n9">-0.22</i><i class="p1">0.03</i><i class="n2">-0.04</i><i class="p5">0.12</i><i class="n20">-0.49</i><i class="n18">-0.45</i><i class="n16">-0.41</i><i class="n11">-0.27</i><i class="p5">0.12</i><i class="p12">0.31</i><i class="p13">0.33</i><i class="p15">0.37</i><i class="p23">0.57</i><i class="p22">0.56</i><i class="p20">0.49</i><i class="p7">0.17</i><i class="n17">-0.43</i><i class="p8">0.20</i><i class="p8">0.20</i><i class="p0">0.00</i><i class="p40 D">1</i><i class="n4">-0.11</i><i class="p3">0.08</i><i class="p8">0.19</i><i class="p8">0.20</i><i class="n10">-0.25</i>
<i class="p9">0.22</i><i class="p0">0.00</i><i class="p35 L">0.88 **</i><i class="p16">0.39</i><i class="p16">0.39</i><i class="n2">-0.05</i><i class="p20">0.51</i><i class="p38 L">0.94 **</i><i class="p38 L">0.94 **</i><i class="p32 L">0.80 **</i><i class="p28 L">0.69 **</i><i class="p28 L">0.71 **</i><i class="p22">0.55</i><i class="p20">0.51</i><i class="p4">0.11</i><i class="n3">-0.07</i><i class="n4">-0.09</i><i class="n9">-0.22</i><i class="p5">0.12</i><i class="p9">0.22</i><i class="p4">0.11</i><i class="n4">-0.09</i><i class="p34 L">0.86 **</i><i class="p22">0.55</i><i class="p30 L">0.76 **</i><i class="p25 L">0.63 **</i><i class="n4">-0.11</i><i class="p40 D">1</i><i class="p27 L">0.67 **</i><i class="p20">0.49</i><i class="p24">0.59</i><i class="p35 L">0.88 **</i>
<i class="p0">0.00</i><i class="n11">-0.27</i><i class="p29 L">0.73 **</i><i class="p23">0.57</i><i class="p22">0.55</i><i class="n8">-0.19</i><i class="n5">-0.12</i><i class="p31 L">0.78 **</i><i class="p28 L">0.71 **</i><i class="p35 L">0.88 **</i><i class="p12">0.31</i><i class="p17">0.43</i><i class="p4">0.11</i><i class="p6">0.14</i><i class="n15">-0.37</i><i class="n13">-0.32</i><i class="n7">-0.17</i><i class="n7">-0.17</i><i class="n1">-0.02</i><i class="n2">-0.06</i><i class="p0">0.00</i><i class="n4">-0.09</i><i class="p16">0.41</i><i class="p34 L">0.86 **</i><i class="p34 L">0.85 **</i><i class="p34 L">0.86 **</i><i class="p3">0.08</i><i class="p27 L">0.67 **</i><i class="p40 D">1</i><i class="p34 L">0.84 **</i><i class="p34 L">0.86 **</i><i class="p27 L">0.67 **</i>
<i class="p6">0.16</i><i class="n14">-0.35</i><i class="p22">0.55</i><i class="p24">0.59</i><i class="p11">0.27</i><i class="n6">-0.14</i><i class="n12">-0.29</i><i class="p25 L">0.63 **</i><i class="p23">0.57</i><i class="p35 L">0.87 **</i><i class="p6">0.15</i><i class="p10">0.24</i><i class="p1">0.02</i><i class="p2">0.04</i><i class="n9">-0.22</i><i class="n4">-0.10</i><i class="p6">0.14</i><i class="p3">0.07</i><i class="p5">0.13</i><i class="p0">0.00</i><i class="p3">0.08</i><i class="n11">-0.27</i><i class="p8">0.19</i><i class="p34 L">0.86 **</i><i class="p32 L">0.80 **</i><i class="p24 L">0.61 **</i><i class="p8">0.19</i><i class="p20">0.49</i><i class="p34 L">0.84 **</i><i class="p40 D">1</i><i class="p34 L">0.84 **</i><i class="p16">0.41</i>
<i class="p6">0.14</i><i class="n21">-0.53</i><i class="p22">0.55</i><i class="p15">0.37</i><i class="p12">0.29</i><i class="n9">-0.22</i><i class="n7">-0.17</i><i class="p30 L">0.76 **</i><i class="p26 L">0.65 **</i><i class="p34 L">0.85 **</i><i class="p6">0.14</i><i class="p13">0.33</i><i class="p2">0.05</i><i class="p8">0.20</i><i class="n14">-0.35</i><i class="n6">-0.14</i><i class="n5">-0.13</i><i class="n6">-0.16</i><i class="p5">0.12</i><i class="p2">0.04</i><i class="p2">0.06</i><i class="n7">-0.17</i><i class="p10">0.24</i><i class="p34 L">0.84 **</i><i class="p36 L">0.90 **</i><i class="p34 L">0.86 **</i><i class="p8">0.20</i><i class="p24">0.59</i><i class="p34 L">0.86 **</i><i class="p34 L">0.84 **</i><i class="p40 D">1</i><i class="p24">0.59</i>
<i class="p10">0.24</i><i class="n2">-0.04</i><i class="p34 L">0.85 **</i><i class="p10">0.24</i><i class="p15">0.37</i><i class="p2">0.04</i><i class="p10">0.25</i><i class="p34 L">0.85 **</i><i class="p34 L">0.84 **</i><i class="p28 L">0.71 **</i><i class="p23">0.57</i><i class="p24">0.59</i><i class="p10">0.24</i><i class="p17">0.43</i><i class="n8">-0.20</i><i class="n10">-0.25</i><i class="n6">-0.14</i><i class="n1">-0.03</i><i class="p5">0.13</i><i class="p2">0.06</i><i class="p8">0.20</i><i class="n12">-0.29</i><i class="p33 L">0.82 **</i><i class="p20">0.49</i><i class="p28 L">0.69 **</i><i class="p25 L">0.63 **</i><i class="n10">-0.25</i><i class="p35 L">0.88 **</i><i class="p27 L">0.67 **</i><i class="p16">0.41</i><i class="p24">0.59</i><i class="p40 D">1</i>
</div>
<div class="big" style="left:35.8px;top:36px;width:144.2px;line-height:259.6px">A</div>
<div class="ch" style="left:278.05px;top:284.6px;width:248.6px;height:40px;line-height:40px;transform:rotate(-90deg) scale(1.042,1)"><span style="padding-left:5px">Variables</span></div>
<div class="ch" style="left:417.6px;top:284.6px;width:248.6px;height:50.6px;line-height:50.6px;transform:rotate(-90deg) scale(1.057,1)"><span style="padding-left:5.2px">d18:1 (So)</span></div>
<div class="ch" style="left:468.2px;top:284.6px;width:248.6px;height:50.6px;line-height:50.6px;transform:rotate(-90deg) scale(1.044,1)"><span style="padding-left:5.2px">d18:0 (Sa)</span></div>
<div class="ch" style="left:518.9px;top:284.6px;width:248.6px;height:50.6px;line-height:50.6px;transform:rotate(-90deg) scale(1.088,1)"><span style="padding-left:5.2px">d18:0C16:0</span></div>
<div class="ch" style="left:569.5px;top:284.6px;width:248.6px;height:50.6px;line-height:50.6px;transform:rotate(-90deg) scale(1.088,1)"><span style="padding-left:5.2px">d18:0C18:0</span></div>
<div class="ch" style="left:620.2px;top:284.6px;width:248.6px;height:50.6px;line-height:50.6px;transform:rotate(-90deg) scale(1.088,1)"><span style="padding-left:5.2px">d18:0C22:0</span></div>
<div class="ch" style="left:670.8px;top:284.6px;width:248.6px;height:50.6px;line-height:50.6px;transform:rotate(-90deg) scale(1.088,1)"><span style="padding-left:5.2px">d18:0C23:0</span></div>
<div class="ch" style="left:721.4px;top:284.6px;width:248.6px;height:50.6px;line-height:50.6px;transform:rotate(-90deg) scale(1.088,1)"><span style="padding-left:5.2px">d18:0C24:0</span></div>
<div class="ch" style="left:772.1px;top:284.6px;width:248.6px;height:50.6px;line-height:50.6px;transform:rotate(-90deg) scale(1.150,1)"><span style="padding-left:5.2px">18:1/14:0</span></div>
<div class="ch" style="left:822.7px;top:284.6px;width:248.6px;height:50.6px;line-height:50.6px;transform:rotate(-90deg) scale(1.150,1)"><span style="padding-left:5.2px">18:1/16:0</span></div>
<div class="ch" style="left:873.4px;top:284.6px;width:248.6px;height:50.6px;line-height:50.6px;transform:rotate(-90deg) scale(1.150,1)"><span style="padding-left:5.2px">18:1/18:0</span></div>
<div class="ch" style="left:924.0px;top:284.6px;width:248.6px;height:50.6px;line-height:50.6px;transform:rotate(-90deg) scale(1.150,1)"><span style="padding-left:5.2px">18:1/20:0</span></div>
<div class="ch" style="left:974.6px;top:284.6px;width:248.6px;height:50.6px;line-height:50.6px;transform:rotate(-90deg) scale(1.150,1)"><span style="padding-left:5.2px">18:1/22:0</span></div>
<div class="ch" style="left:1025.3px;top:284.6px;width:248.6px;height:50.6px;line-height:50.6px;transform:rotate(-90deg) scale(1.150,1)"><span style="padding-left:5.2px">18:1/23:0</span></div>
<div class="ch" style="left:1075.9px;top:284.6px;width:248.6px;height:50.6px;line-height:50.6px;transform:rotate(-90deg) scale(1.150,1)"><span style="padding-left:5.2px">18:1/24:0</span></div>
<div class="ch" style="left:1126.6px;top:284.6px;width:248.6px;height:50.6px;line-height:50.6px;transform:rotate(-90deg) scale(1.132,1)"><span style="padding-left:5.2px">SM18:1/14:0</span></div>
<div class="ch" style="left:1177.2px;top:284.6px;width:248.6px;height:50.6px;line-height:50.6px;transform:rotate(-90deg) scale(1.132,1)"><span style="padding-left:5.2px">SM18:1/16:0</span></div>
<div class="ch" style="left:1227.8px;top:284.6px;width:248.6px;height:50.6px;line-height:50.6px;transform:rotate(-90deg) scale(1.132,1)"><span style="padding-left:5.2px">SM18:1/18:0</span></div>
<div class="ch" style="left:1278.5px;top:284.6px;width:248.6px;height:50.6px;line-height:50.6px;transform:rotate(-90deg) scale(1.132,1)"><span style="padding-left:5.2px">SM18:1/20:0</span></div>
<div class="ch" style="left:1329.1px;top:284.6px;width:248.6px;height:50.6px;line-height:50.6px;transform:rotate(-90deg) scale(1.132,1)"><span style="padding-left:5.2px">SM18:1/22:0</span></div>
<div class="ch" style="left:1379.8px;top:284.6px;width:248.6px;height:50.6px;line-height:50.6px;transform:rotate(-90deg) scale(1.132,1)"><span style="padding-left:5.2px">SM18:1/23:0</span></div>
<div class="ch" style="left:1430.4px;top:284.6px;width:248.6px;height:50.6px;line-height:50.6px;transform:rotate(-90deg) scale(1.132,1)"><span style="padding-left:5.2px">SM18:1/24:0</span></div>
<div class="ch" style="left:1481.1px;top:284.6px;width:248.6px;height:50.6px;line-height:50.6px;transform:rotate(-90deg) scale(1.129,1)"><span style="padding-left:5.2px">Hex18:1/16:0</span></div>
<div class="ch" style="left:1531.7px;top:284.6px;width:248.6px;height:50.6px;line-height:50.6px;transform:rotate(-90deg) scale(1.129,1)"><span style="padding-left:5.2px">Hex18:1/18:0</span></div>
<div class="ch" style="left:1582.3px;top:284.6px;width:248.6px;height:50.6px;line-height:50.6px;transform:rotate(-90deg) scale(1.129,1)"><span style="padding-left:5.2px">Hex18:1/20:0</span></div>
<div class="ch" style="left:1633.0px;top:284.6px;width:248.6px;height:50.6px;line-height:50.6px;transform:rotate(-90deg) scale(1.129,1)"><span style="padding-left:5.2px">Hex18:1/22:0</span></div>
<div class="ch" style="left:1683.6px;top:284.6px;width:248.6px;height:50.6px;line-height:50.6px;transform:rotate(-90deg) scale(1.129,1)"><span style="padding-left:5.2px">Hex18:1/24:0</span></div>
<div class="ch" style="left:1734.3px;top:284.6px;width:248.6px;height:50.6px;line-height:50.6px;transform:rotate(-90deg) scale(1.095,1)"><span style="padding-left:5.2px">Lac18:1/16:0</span></div>
<div class="ch" style="left:1784.9px;top:284.6px;width:248.6px;height:50.6px;line-height:50.6px;transform:rotate(-90deg) scale(1.095,1)"><span style="padding-left:5.2px">Lac18:1/18:0</span></div>
<div class="ch" style="left:1835.5px;top:284.6px;width:248.6px;height:50.6px;line-height:50.6px;transform:rotate(-90deg) scale(1.095,1)"><span style="padding-left:5.2px">Lac18:1/20:0</span></div>
<div class="ch" style="left:1886.2px;top:284.6px;width:248.6px;height:50.6px;line-height:50.6px;transform:rotate(-90deg) scale(1.095,1)"><span style="padding-left:5.2px">Lac18:1/22:0</span></div>
<div class="ch" style="left:1936.8px;top:284.6px;width:248.6px;height:50.6px;line-height:50.6px;transform:rotate(-90deg) scale(1.095,1)"><span style="padding-left:5.2px">Lac18:1/24:0</span></div>
<div class="ch" style="left:1987.5px;top:284.6px;width:248.6px;height:50.6px;line-height:50.6px;transform:rotate(-90deg) scale(1.094,1)"><span style="padding-left:5.2px">ST18:1/24:0</span></div>
<div class="gl" style="left:35.8px;top:285.6px;width:144.2px;line-height:106.7px">BS</div>
<div class="gl" style="left:35.8px;top:392.3px;width:144.2px;line-height:266.8px">DHCer</div>
<div class="gl" style="left:35.8px;top:659.1px;width:144.2px;line-height:373.5px">Cer</div>
<div class="gl" style="left:35.8px;top:1032.7px;width:144.2px;line-height:373.5px">SM</div>
<div class="gl" style="left:35.8px;top:1406.2px;width:144.2px;line-height:266.8px">HexCer</div>
<div class="gl" style="left:35.8px;top:1673.0px;width:144.2px;line-height:320.2px">LacCer</div>
<div class="rl" style="left:187px;top:286.8px;line-height:53.4px;transform:scale(0.978,1.053)">d18:1 (So)</div>
<div class="rl" style="left:187px;top:340.3px;line-height:53.4px;transform:scale(0.966,1.053)">d18:0 (Sa)</div>
<div class="rl" style="left:187px;top:393.8px;line-height:53.4px;transform:scale(0.991,1.053)">d18:0C16:0</div>
<div class="rl" style="left:187px;top:447.4px;line-height:53.4px;transform:scale(0.991,1.053)">d18:0C18:0</div>
<div class="rl" style="left:187px;top:500.9px;line-height:53.4px;transform:scale(0.991,1.053)">d18:0C22:0</div>
<div class="rl" style="left:187px;top:554.4px;line-height:53.4px;transform:scale(0.991,1.053)">d18:0C23:0</div>
<div class="rl" style="left:187px;top:607.9px;line-height:53.4px;transform:scale(0.991,1.053)">d18:0C24:0</div>
<div class="rl" style="left:187px;top:661.4px;line-height:53.4px;transform:scale(1.048,1.053)">18:1/14:0</div>
<div class="rl" style="left:187px;top:714.9px;line-height:53.4px;transform:scale(1.048,1.053)">18:1/16:0</div>
<div class="rl" style="left:187px;top:768.3px;line-height:53.4px;transform:scale(1.048,1.053)">18:1/18:0</div>
<div class="rl" style="left:187px;top:821.8px;line-height:53.4px;transform:scale(1.048,1.053)">18:1/20:0</div>
<div class="rl" style="left:187px;top:875.2px;line-height:53.4px;transform:scale(1.048,1.053)">18:1/22:0</div>
<div class="rl" style="left:187px;top:928.7px;line-height:53.4px;transform:scale(1.048,1.053)">18:1/23:0</div>
<div class="rl" style="left:187px;top:982.1px;line-height:53.4px;transform:scale(1.048,1.053)">18:1/24:0</div>
<div class="rl" style="left:187px;top:1035.5px;line-height:53.4px;transform:scale(1.031,1.053)">SM18:1/14:0</div>
<div class="rl" style="left:187px;top:1088.8px;line-height:53.4px;transform:scale(1.031,1.053)">SM18:1/16:0</div>
<div class="rl" style="left:187px;top:1142.2px;line-height:53.4px;transform:scale(1.031,1.053)">SM18:1/18:0</div>
<div class="rl" style="left:187px;top:1195.5px;line-height:53.4px;transform:scale(1.031,1.053)">SM18:1/20:0</div>
<div class="rl" style="left:187px;top:1248.9px;line-height:53.4px;transform:scale(1.031,1.053)">SM18:1/22:0</div>
<div class="rl" style="left:187px;top:1302.2px;line-height:53.4px;transform:scale(1.031,1.053)">SM18:1/23:0</div>
<div class="rl" style="left:187px;top:1355.5px;line-height:53.4px;transform:scale(1.031,1.053)">SM18:1/24:0</div>
<div class="rl" style="left:187px;top:1408.8px;line-height:53.4px;transform:scale(1.028,1.053)">Hex18:1/16:0</div>
<div class="rl" style="left:187px;top:1462.0px;line-height:53.4px;transform:scale(1.028,1.053)">Hex18:1/18:0</div>
<div class="rl" style="left:187px;top:1515.3px;line-height:53.4px;transform:scale(1.028,1.053)">Hex18:1/20:0</div>
<div class="rl" style="left:187px;top:1568.5px;line-height:53.4px;transform:scale(1.028,1.053)">Hex18:1/22:0</div>
<div class="rl" style="left:187px;top:1621.8px;line-height:53.4px;transform:scale(1.028,1.053)">Hex18:1/24:0</div>
<div class="rl" style="left:187px;top:1675.0px;line-height:53.4px;transform:scale(0.997,1.053)">Lac18:1/16:0</div>
<div class="rl" style="left:187px;top:1728.2px;line-height:53.4px;transform:scale(0.997,1.053)">Lac18:1/18:0</div>
<div class="rl" style="left:187px;top:1781.4px;line-height:53.4px;transform:scale(0.997,1.053)">Lac18:1/20:0</div>
<div class="rl" style="left:187px;top:1834.6px;line-height:53.4px;transform:scale(0.997,1.053)">Lac18:1/22:0</div>
<div class="rl" style="left:187px;top:1887.8px;line-height:53.4px;transform:scale(0.997,1.053)">Lac18:1/24:0</div>
<div class="rl" style="left:187px;top:1941.0px;line-height:53.4px;transform:scale(0.997,1.053)">ST18:1/24:0</div>
</section>
<section class="t" id="table-b">
<div class="b" style="left:32.3px;top:2008.5px;width:2002.3px;height:3.0px"></div><div class="b" style="left:32.3px;top:2008.5px;width:3.0px;height:1958.1px"></div><div class="b" style="left:32.3px;top:3963.6px;width:381.7px;height:3.0px"></div><div class="b" style="left:32.3px;top:2255.8px;width:381.7px;height:3.0px"></div><div class="b" style="left:174.9px;top:2008.5px;width:3.0px;height:1958.1px"></div><div class="b" style="left:412.5px;top:2008.5px;width:3.0px;height:247.3px"></div><div class="b" style="left:463.1px;top:2008.5px;width:3.0px;height:247.3px"></div><div class="b" style="left:513.7px;top:2008.5px;width:3.0px;height:247.3px"></div><div class="b" style="left:564.3px;top:2008.5px;width:3.0px;height:247.3px"></div><div class="b" style="left:614.9px;top:2008.5px;width:3.0px;height:247.3px"></div><div class="b" style="left:665.5px;top:2008.5px;width:3.0px;height:247.3px"></div><div class="b" style="left:716.1px;top:2008.5px;width:3.0px;height:247.3px"></div><div class="b" style="left:766.7px;top:2008.5px;width:3.0px;height:247.3px"></div><div class="b" style="left:817.3px;top:2008.5px;width:3.0px;height:247.3px"></div><div class="b" style="left:867.9px;top:2008.5px;width:3.0px;height:247.3px"></div><div class="b" style="left:918.5px;top:2008.5px;width:3.0px;height:247.3px"></div><div class="b" style="left:969.1px;top:2008.5px;width:3.0px;height:247.3px"></div><div class="b" style="left:1019.7px;top:2008.5px;width:3.0px;height:247.3px"></div><div class="b" style="left:1070.3px;top:2008.5px;width:3.0px;height:247.3px"></div><div class="b" style="left:1120.9px;top:2008.5px;width:3.0px;height:247.3px"></div><div class="b" style="left:1171.5px;top:2008.5px;width:3.0px;height:247.3px"></div><div class="b" style="left:1222.0px;top:2008.5px;width:3.0px;height:247.3px"></div><div class="b" style="left:1272.6px;top:2008.5px;width:3.0px;height:247.3px"></div><div class="b" style="left:1323.2px;top:2008.5px;width:3.0px;height:247.3px"></div><div class="b" style="left:1373.8px;top:2008.5px;width:3.0px;height:247.3px"></div><div class="b" style="left:1424.4px;top:2008.5px;width:3.0px;height:247.3px"></div><div class="b" style="left:1475.0px;top:2008.5px;width:3.0px;height:247.3px"></div><div class="b" style="left:1525.6px;top:2008.5px;width:3.0px;height:247.3px"></div><div class="b" style="left:1576.2px;top:2008.5px;width:3.0px;height:247.3px"></div><div class="b" style="left:1626.8px;top:2008.5px;width:3.0px;height:247.3px"></div><div class="b" style="left:1677.4px;top:2008.5px;width:3.0px;height:247.3px"></div><div class="b" style="left:1728.0px;top:2008.5px;width:3.0px;height:247.3px"></div><div class="b" style="left:1778.6px;top:2008.5px;width:3.0px;height:247.3px"></div><div class="b" style="left:1829.2px;top:2008.5px;width:3.0px;height:247.3px"></div><div class="b" style="left:1879.8px;top:2008.5px;width:3.0px;height:247.3px"></div><div class="b" style="left:1930.4px;top:2008.5px;width:3.0px;height:247.3px"></div><div class="b" style="left:1981.0px;top:2008.5px;width:3.0px;height:247.3px"></div><div class="b" style="left:2031.6px;top:2008.5px;width:3.0px;height:247.3px"></div><div class="b" style="left:176.4px;top:2309.2px;width:237.6px;height:3.0px"></div><div class="b" style="left:176.4px;top:2362.5px;width:237.6px;height:3.0px"></div><div class="b" style="left:176.4px;top:2415.9px;width:237.6px;height:3.0px"></div><div class="b" style="left:176.4px;top:2469.3px;width:237.6px;height:3.0px"></div><div class="b" style="left:176.4px;top:2522.6px;width:237.6px;height:3.0px"></div><div class="b" style="left:176.4px;top:2576.0px;width:237.6px;height:3.0px"></div><div class="b" style="left:176.4px;top:2629.4px;width:237.6px;height:3.0px"></div><div class="b" style="left:176.4px;top:2682.8px;width:237.6px;height:3.0px"></div><div class="b" style="left:176.4px;top:2736.1px;width:237.6px;height:3.0px"></div><div class="b" style="left:176.4px;top:2789.5px;width:237.6px;height:3.0px"></div><div class="b" style="left:176.4px;top:2842.9px;width:237.6px;height:3.0px"></div><div class="b" style="left:176.4px;top:2896.2px;width:237.6px;height:3.0px"></div><div class="b" style="left:176.4px;top:2949.6px;width:237.6px;height:3.0px"></div><div class="b" style="left:176.4px;top:3003.0px;width:237.6px;height:3.0px"></div><div class="b" style="left:176.4px;top:3056.3px;width:237.6px;height:3.0px"></div><div class="b" style="left:176.4px;top:3109.7px;width:237.6px;height:3.0px"></div><div class="b" style="left:176.4px;top:3163.1px;width:237.6px;height:3.0px"></div><div class="b" style="left:176.4px;top:3216.4px;width:237.6px;height:3.0px"></div><div class="b" style="left:176.4px;top:3269.8px;width:237.6px;height:3.0px"></div><div class="b" style="left:176.4px;top:3323.2px;width:237.6px;height:3.0px"></div><div class="b" style="left:176.4px;top:3376.5px;width:237.6px;height:3.0px"></div><div class="b" style="left:176.4px;top:3429.9px;width:237.6px;height:3.0px"></div><div class="b" style="left:176.4px;top:3483.3px;width:237.6px;height:3.0px"></div><div class="b" style="left:176.4px;top:3536.7px;width:237.6px;height:3.0px"></div><div class="b" style="left:176.4px;top:3590.0px;width:237.6px;height:3.0px"></div><div class="b" style="left:176.4px;top:3643.4px;width:237.6px;height:3.0px"></div><div class="b" style="left:176.4px;top:3696.8px;width:237.6px;height:3.0px"></div><div class="b" style="left:176.4px;top:3750.1px;width:237.6px;height:3.0px"></div><div class="b" style="left:176.4px;top:3803.5px;width:237.6px;height:3.0px"></div><div class="b" style="left:176.4px;top:3856.9px;width:237.6px;height:3.0px"></div><div class="b" style="left:176.4px;top:3910.2px;width:237.6px;height:3.0px"></div><div class="b" style="left:33.8px;top:2362.5px;width:142.6px;height:3.0px"></div><div class="b" style="left:33.8px;top:2629.4px;width:142.6px;height:3.0px"></div><div class="b" style="left:33.8px;top:3003.0px;width:142.6px;height:3.0px"></div><div class="b" style="left:33.8px;top:3376.5px;width:142.6px;height:3.0px"></div><div class="b" style="left:33.8px;top:3643.4px;width:142.6px;height:3.0px"></div>
<div class="hm" style="left:413.8px;top:2256.5px;grid-template-columns:repeat(31,50.6px) 53.3px;grid-template-rows:repeat(31,53.34px) 55.7px">
<i class="p40 D">1</i><i class="p20">0.49</i><i class="n2">-0.05</i><i class="p16">0.41</i><i class="p5">0.13</i><i class="p7">0.18</i><i class="n8">-0.19</i><i class="p27 L">0.67 **</i><i class="p26 L">0.65 **</i><i class="p28 L">0.71 **</i><i class="p16">0.41</i><i class="p23">0.57</i><i class="p23">0.57</i><i class="p19">0.47</i><i class="p14">0.35</i><i class="p29 L">0.73 **</i><i class="p23">0.57</i><i class="p27 L">0.67 **</i><i class="p18">0.45</i><i class="p16">0.41</i><i class="p15">0.38</i><i class="p16">0.39</i><i class="p17">0.43</i><i class="p28 L">0.69 **</i><i class="p28 L">0.69 **</i><i class="p24 L">0.61 **</i><i class="p25 L">0.63 **</i><i class="p24 L">0.61 **</i><i class="p28 L">0.71 **</i><i class="p28 L">0.70 **</i><i class="p30 L">0.76 **</i><i class="p23">0.57</i>
<i class="p20">0.49</i><i class="p40 D">1</i><i class="p26 L">0.65 **</i><i class="p24 L">0.61 **</i><i class="p25 L">0.63 **</i><i class="p25 L">0.63 **</i><i class="p22">0.55</i><i class="p26 L">0.65 **</i><i class="p28 L">0.71 **</i><i class="p28 L">0.71 **</i><i class="p28 L">0.69 **</i><i class="p30 L">0.76 **</i><i class="p30 L">0.74 **</i><i class="p34 L">0.84 **</i><i class="p26 L">0.65 **</i><i class="p26 L">0.65 **</i><i class="p30 L">0.76 **</i><i class="p28 L">0.69 **</i><i class="p27 L">0.67 **</i><i class="p18">0.45</i><i class="p22">0.54</i><i class="p21">0.53</i><i class="p33 L">0.82 **</i><i class="p28 L">0.71 **</i><i class="p21">0.53</i><i class="p25 L">0.63 **</i><i class="p8">0.20</i><i class="p25 L">0.63 **</i><i class="p30 L">0.76 **</i><i class="p10">0.25</i><i class="p20">0.49</i><i class="p34 L">0.84 **</i>
<i class="n2">-0.05</i><i class="p26 L">0.65 **</i><i class="p40 D">1</i><i class="p24">0.59</i><i class="p25 L">0.63 **</i><i class="p22">0.55</i><i class="p24">0.59</i><i class="p23">0.57</i><i class="p24">0.59</i><i class="p20">0.49</i><i class="p20">0.51</i><i class="p24 L">0.61 **</i><i class="p27 L">0.67 **</i><i class="p28 L">0.69 **</i><i class="p28 L">0.69 **</i><i class="p16">0.41</i><i class="p20">0.51</i><i class="p10">0.24</i><i class="p20">0.51</i><i class="p20">0.50</i><i class="p22">0.56</i><i class="p24">0.59</i><i class="p32 L">0.80 **</i><i class="p24 L">0.61 **</i><i class="p16">0.41</i><i class="p24 L">0.61 **</i><i class="p6">0.16</i><i class="p23">0.57</i><i class="p22">0.55</i><i class="p3">0.07</i><i class="p13">0.33</i><i class="p28 L">0.69 **</i>
<i class="p16">0.41</i><i class="p24 L">0.61 **</i><i class="p24">0.59</i><i class="p40 D">1</i><i class="p28 L">0.69 **</i><i class="p34 L">0.84 **</i><i class="p20">0.51</i><i class="p34 L">0.84 **</i><i class="p34 L">0.84 **</i><i class="p29 L">0.72 **</i><i class="p8">0.20</i><i class="p16">0.39</i><i class="p18">0.45</i><i class="p22">0.55</i><i class="p18">0.45</i><i class="p28 L">0.71 **</i><i class="p15">0.37</i><i class="p21">0.53</i><i class="p27 L">0.67 **</i><i class="p31 L">0.78 **</i><i class="p32 L">0.80 **</i><i class="p27 L">0.68 **</i><i class="p25 L">0.63 **</i><i class="p29 L">0.72 **</i><i class="p32 L">0.80 **</i><i class="p33 L">0.82 **</i><i class="p28 L">0.71 **</i><i class="p33 L">0.82 **</i><i class="p30 L">0.76 **</i><i class="p30 L">0.74 **</i><i class="p32 L">0.81 **</i><i class="p32 L">0.80 **</i>
<i class="p5">0.13</i><i class="p25 L">0.63 **</i><i class="p25 L">0.63 **</i><i class="p28 L">0.69 **</i><i class="p40 D">1</i><i class="p30 L">0.74 **</i><i class="p32 L">0.80 **</i><i class="p24 L">0.61 **</i><i class="p24 L">0.61 **</i><i class="p20">0.51</i><i class="p25 L">0.63 **</i><i class="p25 L">0.63 **</i><i class="p24 L">0.61 **</i><i class="p30 L">0.74 **</i><i class="p14">0.35</i><i class="p15">0.37</i><i class="p10">0.24</i><i class="p24">0.59</i><i class="p16">0.41</i><i class="p18">0.45</i><i class="p20">0.51</i><i class="p12">0.29</i><i class="p26 L">0.65 **</i><i class="p19">0.47</i><i class="p20">0.49</i><i class="p23">0.57</i><i class="p10">0.25</i><i class="p24">0.59</i><i class="p23">0.57</i><i class="p10">0.25</i><i class="p18">0.45</i><i class="p29 L">0.73 **</i>
<i class="p7">0.18</i><i class="p25 L">0.63 **</i><i class="p22">0.55</i><i class="p34 L">0.84 **</i><i class="p30 L">0.74 **</i><i class="p40 D">1</i><i class="p28 L">0.71 **</i><i class="p26 L">0.65 **</i><i class="p26 L">0.65 **</i><i class="p20">0.51</i><i class="p7">0.18</i><i class="p14">0.35</i><i class="p14">0.35</i><i class="p20">0.51</i><i class="p6">0.16</i><i class="p17">0.43</i><i class="p11">0.27</i><i class="p17">0.43</i><i class="p20">0.49</i><i class="p22">0.55</i><i class="p24">0.59</i><i class="p16">0.41</i><i class="p23">0.57</i><i class="p20">0.49</i><i class="p23">0.57</i><i class="p24 L">0.61 **</i><i class="p16">0.41</i><i class="p27 L">0.67 **</i><i class="p24 L">0.61 **</i><i class="p20">0.51</i><i class="p24">0.59</i><i class="p30 L">0.76 **</i>
<i class="n8">-0.19</i><i class="p22">0.55</i><i class="p24">0.59</i><i class="p20">0.51</i><i class="p32 L">0.80 **</i><i class="p28 L">0.71 **</i><i class="p40 D">1</i><i class="p9">0.22</i><i class="p8">0.20</i><i class="p5">0.12</i><i class="p16">0.41</i><i class="p16">0.41</i><i class="p13">0.33</i><i class="p25 L">0.63 **</i><i class="p2">0.06</i><i class="p6">0.14</i><i class="p6">0.14</i><i class="p22">0.55</i><i class="p10">0.25</i><i class="p10">0.25</i><i class="p13">0.33</i><i class="p0">0.00</i><i class="p21">0.53</i><i class="p5">0.13</i><i class="p5">0.12</i><i class="p10">0.24</i><i class="n7">-0.17</i><i class="p8">0.20</i><i class="p8">0.20</i><i class="n3">-0.07</i><i class="p4">0.10</i><i class="p22">0.55</i>
<i class="p27 L">0.67 **</i><i class="p26 L">0.65 **</i><i class="p23">0.57</i><i class="p34 L">0.84 **</i><i class="p24 L">0.61 **</i><i class="p26 L">0.65 **</i><i class="p9">0.22</i><i class="p40 D">1</i><i class="p38 L">0.94 **</i><i class="p35 L">0.88 **</i><i class="p19">0.47</i><i class="p27 L">0.67 **</i><i class="p30 L">0.74 **</i><i class="p28 L">0.69 **</i><i class="p25 L">0.63 **</i><i class="p31 L">0.78 **</i><i class="p24">0.59</i><i class="p24 L">0.61 **</i><i class="p28 L">0.69 **</i><i class="p31 L">0.78 **</i><i class="p32 L">0.80 **</i><i class="p32 L">0.80 **</i><i class="p31 L">0.78 **</i><i class="p37 L">0.92 **</i><i class="p35 L">0.88 **</i><i class="p36 L">0.89 **</i><i class="p32 L">0.81 **</i><i class="p38 L">0.94 **</i><i class="p35 L">0.88 **</i><i class="p32 L">0.80 **</i><i class="p37 L">0.92 **</i><i class="p34 L">0.86 **</i>
<i class="p26 L">0.65 **</i><i class="p28 L">0.71 **</i><i class="p24">0.59</i><i class="p34 L">0.84 **</i><i class="p24 L">0.61 **</i><i class="p26 L">0.65 **</i><i class="p8">0.20</i><i class="p38 L">0.94 **</i><i class="p40 D">1</i><i class="p36 L">0.90 **</i><i class="p20">0.49</i><i class="p27 L">0.67 **</i><i class="p30 L">0.74 **</i><i class="p28 L">0.71 **</i><i class="p25 L">0.63 **</i><i class="p30 L">0.76 **</i><i class="p22">0.55</i><i class="p23">0.57</i><i class="p27 L">0.67 **</i><i class="p30 L">0.76 **</i><i class="p30 L">0.76 **</i><i class="p32 L">0.80 **</i><i class="p32 L">0.80 **</i><i class="p36 L">0.91 **</i><i class="p36 L">0.89 **</i><i class="p36 L">0.90 **</i><i class="p32 L">0.80 **</i><i class="p38 L">0.95 **</i><i class="p36 L">0.91 **</i><i class="p31 L">0.78 **</i><i class="p36 L">0.91 **</i><i class="p36 L">0.89 **</i>
<i class="p28 L">0.71 **</i><i class="p28 L">0.71 **</i><i class="p20">0.49</i><i class="p29 L">0.72 **</i><i class="p20">0.51</i><i class="p20">0.51</i><i class="p5">0.12</i><i class="p35 L">0.88 **</i><i class="p36 L">0.90 **</i><i class="p40 D">1</i><i class="p24">0.59</i><i class="p28 L">0.69 **</i><i class="p30 L">0.74 **</i><i class="p28 L">0.70 **</i><i class="p30 L">0.74 **</i><i class="p28 L">0.71 **</i><i class="p22">0.55</i><i class="p21">0.53</i><i class="p19">0.47</i><i class="p21">0.53</i><i class="p23">0.57</i><i class="p32 L">0.80 **</i><i class="p31 L">0.77 **</i><i class="p38 L">0.94 **</i><i class="p36 L">0.89 **</i><i class="p34 L">0.85 **</i><i class="p28 L">0.69 **</i><i class="p37 L">0.92 **</i><i class="p38 L">0.95 **</i><i class="p28 L">0.71 **</i><i class="p35 L">0.88 **</i><i class="p34 L">0.86 **</i>
<i class="p16">0.41</i><i class="p28 L">0.69 **</i><i class="p20">0.51</i><i class="p8">0.20</i><i class="p25 L">0.63 **</i><i class="p7">0.18</i><i class="p16">0.41</i><i class="p19">0.47</i><i class="p20">0.49</i><i class="p24">0.59</i><i class="p40 D">1</i><i class="p36 L">0.90 **</i><i class="p34 L">0.86 **</i><i class="p34 L">0.86 **</i><i class="p22">0.55</i><i class="p11">0.27</i><i class="p14">0.35</i><i class="p24 L">0.61 **</i><i class="p6">0.16</i><i class="p2">0.06</i><i class="p5">0.13</i><i class="p6">0.16</i><i class="p28 L">0.71 **</i><i class="p21">0.53</i><i class="p11">0.27</i><i class="p14">0.35</i><i class="p3">0.08</i><i class="p18">0.45</i><i class="p22">0.55</i><i class="p0">0.01</i><i class="p10">0.25</i><i class="p25 L">0.63 **</i>
<i class="p23">0.57</i><i class="p30 L">0.76 **</i><i class="p24 L">0.61 **</i><i class="p16">0.39</i><i class="p25 L">0.63 **</i><i class="p14">0.35</i><i class="p16">0.41</i><i class="p27 L">0.67 **</i><i class="p27 L">0.67 **</i><i class="p28 L">0.69 **</i><i class="p36 L">0.90 **</i><i class="p40 D">1</i><i class="p39 L">0.97 **</i><i class="p36 L">0.91 **</i><i class="p24 L">0.61 **</i><i class="p20">0.51</i><i class="p24">0.59</i><i class="p28 L">0.70 **</i><i class="p16">0.41</i><i class="p12">0.31</i><i class="p16">0.39</i><i class="p14">0.35</i><i class="p34 L">0.85 **</i><i class="p28 L">0.69 **</i><i class="p20">0.49</i><i class="p24 L">0.61 **</i><i class="p12">0.29</i><i class="p27 L">0.67 **</i><i class="p28 L">0.69 **</i><i class="p10">0.24</i><i class="p20">0.51</i><i class="p33 L">0.82 **</i>
<i class="p23">0.57</i><i class="p30 L">0.74 **</i><i class="p27 L">0.67 **</i><i class="p18">0.45</i><i class="p24 L">0.61 **</i><i class="p14">0.35</i><i class="p13">0.33</i><i class="p30 L">0.74 **</i><i class="p30 L">0.74 **</i><i class="p30 L">0.74 **</i><i class="p34 L">0.86 **</i><i class="p39 L">0.97 **</i><i class="p40 D">1</i><i class="p36 L">0.89 **</i><i class="p27 L">0.67 **</i><i class="p24">0.59</i><i class="p25 L">0.63 **</i><i class="p26 L">0.65 **</i><i class="p18">0.45</i><i class="p16">0.39</i><i class="p18">0.45</i><i class="p19">0.47</i><i class="p34 L">0.86 **</i><i class="p31 L">0.78 **</i><i class="p23">0.57</i><i class="p27 L">0.67 **</i><i class="p17">0.43</i><i class="p30 L">0.76 **</i><i class="p30 L">0.76 **</i><i class="p14">0.35</i><i class="p24 L">0.61 **</i><i class="p34 L">0.84 **</i>
<i class="p19">0.47</i><i class="p34 L">0.84 **</i><i class="p28 L">0.69 **</i><i class="p22">0.55</i><i class="p30 L">0.74 **</i><i class="p20">0.51</i><i class="p25 L">0.63 **</i><i class="p28 L">0.69 **</i><i class="p28 L">0.71 **</i><i class="p28 L">0.70 **</i><i class="p34 L">0.86 **</i><i class="p36 L">0.91 **</i><i class="p36 L">0.89 **</i><i class="p40 D">1</i><i class="p26 L">0.65 **</i><i class="p24">0.59</i><i class="p24 L">0.61 **</i><i class="p31 L">0.78 **</i><i class="p21">0.53</i><i class="p17">0.43</i><i class="p21">0.53</i><i class="p14">0.35</i><i class="p34 L">0.86 **</i><i class="p28 L">0.69 **</i><i class="p20">0.51</i><i class="p25 L">0.63 **</i><i class="p10">0.24</i><i class="p27 L">0.67 **</i><i class="p28 L">0.69 **</i><i class="p10">0.24</i><i class="p21">0.53</i><i class="p34 L">0.84 **</i>
<i class="p14">0.35</i><i class="p26 L">0.65 **</i><i class="p28 L">0.69 **</i><i class="p18">0.45</i><i class="p14">0.35</i><i class="p6">0.16</i><i class="p2">0.06</i><i class="p25 L">0.63 **</i><i class="p25 L">0.63 **</i><i class="p30 L">0.74 **</i><i class="p22">0.55</i><i class="p24 L">0.61 **</i><i class="p27 L">0.67 **</i><i class="p26 L">0.65 **</i><i class="p40 D">1</i><i class="p27 L">0.67 **</i><i class="p26 L">0.65 **</i><i class="p12">0.31</i><i class="p24">0.59</i><i class="p23">0.57</i><i class="p24 L">0.61 **</i><i class="p32 L">0.80 **</i><i class="p30 L">0.74 **</i><i class="p31 L">0.78 **</i><i class="p20">0.51</i><i class="p24">0.59</i><i class="p16">0.39</i><i class="p23">0.57</i><i class="p24">0.59</i><i class="p9">0.22</i><i class="p18">0.45</i><i class="p22">0.55</i>
<i class="p29 L">0.73 **</i><i class="p26 L">0.65 **</i><i class="p16">0.41</i><i class="p28 L">0.71 **</i><i class="p15">0.37</i><i class="p17">0.43</i><i class="p6">0.14</i><i class="p31 L">0.78 **</i><i class="p30 L">0.76 **</i><i class="p28 L">0.71 **</i><i class="p11">0.27</i><i class="p20">0.51</i><i class="p24">0.59</i><i class="p24">0.59</i><i class="p27 L">0.67 **</i><i class="p40 D">1</i><i class="p32 L">0.80 **</i><i class="p30 L">0.74 **</i><i class="p35 L">0.87 **</i><i class="p34 L">0.86 **</i><i class="p34 L">0.85 **</i><i class="p28 L">0.69 **</i><i class="p26 L">0.65 **</i><i class="p30 L">0.74 **</i><i class="p30 L">0.74 **</i><i class="p32 L">0.80 **</i><i class="p24 L">0.61 **</i><i class="p26 L">0.65 **</i><i class="p26 L">0.65 **</i><i class="p26 L">0.64 **</i><i class="p30 L">0.76 **</i><i class="p27 L">0.67 **</i>
<i class="p23">0.57</i><i class="p30 L">0.76 **</i><i class="p20">0.51</i><i class="p15">0.37</i><i class="p10">0.24</i><i class="p11">0.27</i><i class="p6">0.14</i><i class="p24">0.59</i><i class="p22">0.55</i><i class="p22">0.55</i><i class="p14">0.35</i><i class="p24">0.59</i><i class="p25 L">0.63 **</i><i class="p24 L">0.61 **</i><i class="p26 L">0.65 **</i><i class="p32 L">0.80 **</i><i class="p40 D">1</i><i class="p25 L">0.63 **</i><i class="p30 L">0.76 **</i><i class="p23">0.57</i><i class="p24 L">0.61 **</i><i class="p20">0.51</i><i class="p29 L">0.73 **</i><i class="p23">0.57</i><i class="p15">0.37</i><i class="p21">0.53</i><i class="p10">0.25</i><i class="p18">0.45</i><i class="p20">0.51</i><i class="p11">0.27</i><i class="p18">0.45</i><i class="p24">0.59</i>
<i class="p27 L">0.67 **</i><i class="p28 L">0.69 **</i><i class="p10">0.24</i><i class="p21">0.53</i><i class="p24">0.59</i><i class="p17">0.43</i><i class="p22">0.55</i><i class="p24 L">0.61 **</i><i class="p23">0.57</i><i class="p21">0.53</i><i class="p24 L">0.61 **</i><i class="p28 L">0.70 **</i><i class="p26 L">0.65 **</i><i class="p31 L">0.78 **</i><i class="p12">0.31</i><i class="p30 L">0.74 **</i><i class="p25 L">0.63 **</i><i class="p40 D">1</i><i class="p25 L">0.63 **</i><i class="p21">0.53</i><i class="p23">0.57</i><i class="p10">0.24</i><i class="p24 L">0.61 **</i><i class="p20">0.49</i><i class="p20">0.49</i><i class="p22">0.55</i><i class="p10">0.24</i><i class="p18">0.45</i><i class="p20">0.51</i><i class="p15">0.37</i><i class="p20">0.51</i><i class="p27 L">0.67 **</i>
<i class="p18">0.45</i><i class="p27 L">0.67 **</i><i class="p20">0.51</i><i class="p27 L">0.67 **</i><i class="p16">0.41</i><i class="p20">0.49</i><i class="p10">0.25</i><i class="p28 L">0.69 **</i><i class="p27 L">0.67 **</i><i class="p19">0.47</i><i class="p6">0.16</i><i class="p16">0.41</i><i class="p18">0.45</i><i class="p21">0.53</i><i class="p24">0.59</i><i class="p35 L">0.87 **</i><i class="p30 L">0.76 **</i><i class="p25 L">0.63 **</i><i class="p40 D">1</i><i class="p36 L">0.91 **</i><i class="p36 L">0.90 **</i><i class="p25 L">0.63 **</i><i class="p25 L">0.63 **</i><i class="p24">0.59</i><i class="p22">0.55</i><i class="p30 L">0.74 **</i><i class="p20">0.49</i><i class="p21">0.53</i><i class="p19">0.47</i><i class="p19">0.47</i><i class="p22">0.55</i><i class="p23">0.57</i>
<i class="p16">0.41</i><i class="p18">0.45</i><i class="p20">0.50</i><i class="p31 L">0.78 **</i><i class="p18">0.45</i><i class="p22">0.55</i><i class="p10">0.25</i><i class="p31 L">0.78 **</i><i class="p30 L">0.76 **</i><i class="p21">0.53</i><i class="p2">0.06</i><i class="p12">0.31</i><i class="p16">0.39</i><i class="p17">0.43</i><i class="p23">0.57</i><i class="p34 L">0.86 **</i><i class="p23">0.57</i><i class="p21">0.53</i><i class="p36 L">0.91 **</i><i class="p40 D">1</i><i class="p39 L">0.98 **</i><i class="p28 L">0.71 **</i><i class="p21">0.53</i><i class="p26 L">0.65 **</i><i class="p30 L">0.74 **</i><i class="p33 L">0.82 **</i><i class="p27 L">0.67 **</i><i class="p26 L">0.65 **</i><i class="p20">0.51</i><i class="p25 L">0.63 **</i><i class="p28 L">0.69 **</i><i class="p22">0.55</i>
<i class="p15">0.38</i><i class="p22">0.54</i><i class="p22">0.56</i><i class="p32 L">0.80 **</i><i class="p20">0.51</i><i class="p24">0.59</i><i class="p13">0.33</i><i class="p32 L">0.80 **</i><i class="p30 L">0.76 **</i><i class="p23">0.57</i><i class="p5">0.13</i><i class="p16">0.39</i><i class="p18">0.45</i><i class="p21">0.53</i><i class="p24 L">0.61 **</i><i class="p34 L">0.85 **</i><i class="p24 L">0.61 **</i><i class="p23">0.57</i><i class="p36 L">0.90 **</i><i class="p39 L">0.98 **</i><i class="p40 D">1</i><i class="p29 L">0.73 **</i><i class="p25 L">0.63 **</i><i class="p26 L">0.65 **</i><i class="p29 L">0.73 **</i><i class="p33 L">0.82 **</i><i class="p25 L">0.63 **</i><i class="p26 L">0.65 **</i><i class="p21">0.53</i><i class="p24">0.59</i><i class="p27 L">0.67 **</i><i class="p25 L">0.63 **</i>
<i class="p16">0.39</i><i class="p21">0.53</i><i class="p24">0.59</i><i class="p27 L">0.68 **</i><i class="p12">0.29</i><i class="p16">0.41</i><i class="p0">0.00</i><i class="p32 L">0.80 **</i><i class="p32 L">0.80 **</i><i class="p32 L">0.80 **</i><i class="p6">0.16</i><i class="p14">0.35</i><i class="p19">0.47</i><i class="p14">0.35</i><i class="p32 L">0.80 **</i><i class="p28 L">0.69 **</i><i class="p20">0.51</i><i class="p10">0.24</i><i class="p25 L">0.63 **</i><i class="p28 L">0.71 **</i><i class="p29 L">0.73 **</i><i class="p40 D">1</i><i class="p24 L">0.61 **</i><i class="p34 L">0.84 **</i><i class="p33 L">0.82 **</i><i class="p33 L">0.82 **</i><i class="p29 L">0.73 **</i><i class="p30 L">0.76 **</i><i class="p30 L">0.74 **</i><i class="p24 L">0.61 **</i><i class="p28 L">0.69 **</i><i class="p23">0.57</i>
<i class="p17">0.43</i><i class="p33 L">0.82 **</i><i class="p32 L">0.80 **</i><i class="p25 L">0.63 **</i><i class="p26 L">0.65 **</i><i class="p23">0.57</i><i class="p21">0.53</i><i class="p31 L">0.78 **</i><i class="p32 L">0.80 **</i><i class="p31 L">0.77 **</i><i class="p28 L">0.71 **</i><i class="p34 L">0.85 **</i><i class="p34 L">0.86 **</i><i class="p34 L">0.86 **</i><i class="p30 L">0.74 **</i><i class="p26 L">0.65 **</i><i class="p29 L">0.73 **</i><i class="p24 L">0.61 **</i><i class="p25 L">0.63 **</i><i class="p21">0.53</i><i class="p25 L">0.63 **</i><i class="p24 L">0.61 **</i><i class="p40 D">1</i><i class="p32 L">0.80 **</i><i class="p24 L">0.61 **</i><i class="p29 L">0.73 **</i><i class="p12">0.31</i><i class="p30 L">0.76 **</i><i class="p30 L">0.76 **</i><i class="p13">0.33</i><i class="p24 L">0.61 **</i><i class="p36 L">0.91 **</i>
<i class="p28 L">0.69 **</i><i class="p28 L">0.71 **</i><i class="p24 L">0.61 **</i><i class="p29 L">0.72 **</i><i class="p19">0.47</i><i class="p20">0.49</i><i class="p5">0.13</i><i class="p37 L">0.92 **</i><i class="p36 L">0.91 **</i><i class="p38 L">0.94 **</i><i class="p21">0.53</i><i class="p28 L">0.69 **</i><i class="p31 L">0.78 **</i><i class="p28 L">0.69 **</i><i class="p31 L">0.78 **</i><i class="p30 L">0.74 **</i><i class="p23">0.57</i><i class="p20">0.49</i><i class="p24">0.59</i><i class="p26 L">0.65 **</i><i class="p26 L">0.65 **</i><i class="p34 L">0.84 **</i><i class="p32 L">0.80 **</i><i class="p40 D">1</i><i class="p36 L">0.89 **</i><i class="p35 L">0.88 **</i><i class="p30 L">0.74 **</i><i class="p36 L">0.90 **</i><i class="p37 L">0.92 **</i><i class="p28 L">0.69 **</i><i class="p34 L">0.84 **</i><i class="p33 L">0.82 **</i>
<i class="p28 L">0.69 **</i><i class="p21">0.53</i><i class="p16">0.41</i><i class="p32 L">0.80 **</i><i class="p20">0.49</i><i class="p23">0.57</i><i class="p5">0.12</i><i class="p35 L">0.88 **</i><i class="p36 L">0.89 **</i><i class="p36 L">0.89 **</i><i class="p11">0.27</i><i class="p20">0.49</i><i class="p23">0.57</i><i class="p20">0.51</i><i class="p20">0.51</i><i class="p30 L">0.74 **</i><i class="p15">0.37</i><i class="p20">0.49</i><i class="p22">0.55</i><i class="p30 L">0.74 **</i><i class="p29 L">0.73 **</i><i class="p33 L">0.82 **</i><i class="p24 L">0.61 **</i><i class="p36 L">0.89 **</i><i class="p40 D">1</i><i class="p37 L">0.93 **</i><i class="p31 L">0.78 **</i><i class="p35 L">0.88 **</i><i class="p35 L">0.88 **</i><i class="p34 L">0.86 **</i><i class="p36 L">0.91 **</i><i class="p31 L">0.78 **</i>
<i class="p24 L">0.61 **</i><i class="p25 L">0.63 **</i><i class="p24 L">0.61 **</i><i class="p33 L">0.82 **</i><i class="p23">0.57</i><i class="p24 L">0.61 **</i><i class="p10">0.24</i><i class="p36 L">0.89 **</i><i class="p36 L">0.90 **</i><i class="p34 L">0.85 **</i><i class="p14">0.35</i><i class="p24 L">0.61 **</i><i class="p27 L">0.67 **</i><i class="p25 L">0.63 **</i><i class="p24">0.59</i><i class="p32 L">0.80 **</i><i class="p21">0.53</i><i class="p22">0.55</i><i class="p30 L">0.74 **</i><i class="p33 L">0.82 **</i><i class="p33 L">0.82 **</i><i class="p33 L">0.82 **</i><i class="p29 L">0.73 **</i><i class="p35 L">0.88 **</i><i class="p37 L">0.93 **</i><i class="p40 D">1</i><i class="p30 L">0.74 **</i><i class="p34 L">0.86 **</i><i class="p34 L">0.84 **</i><i class="p30 L">0.76 **</i><i class="p35 L">0.88 **</i><i class="p34 L">0.84 **</i>
<i class="p25 L">0.63 **</i><i class="p8">0.20</i><i class="p6">0.16</i><i class="p28 L">0.71 **</i><i class="p10">0.25</i><i class="p16">0.41</i><i class="n7">-0.17</i><i class="p32 L">0.81 **</i><i class="p32 L">0.80 **</i><i class="p28 L">0.69 **</i><i class="p3">0.08</i><i class="p12">0.29</i><i class="p17">0.43</i><i class="p10">0.24</i><i class="p16">0.39</i><i class="p24 L">0.61 **</i><i class="p10">0.25</i><i class="p10">0.24</i><i class="p20">0.49</i><i class="p27 L">0.67 **</i><i class="p25 L">0.63 **</i><i class="p29 L">0.73 **</i><i class="p12">0.31</i><i class="p30 L">0.74 **</i><i class="p31 L">0.78 **</i><i class="p30 L">0.74 **</i><i class="p40 D">1</i><i class="p34 L">0.84 **</i><i class="p28 L">0.69 **</i><i class="p36 L">0.90 **</i><i class="p36 L">0.90 **</i><i class="p23">0.57</i>
<i class="p24 L">0.61 **</i><i class="p25 L">0.63 **</i><i class="p23">0.57</i><i class="p33 L">0.82 **</i><i class="p24">0.59</i><i class="p27 L">0.67 **</i><i class="p8">0.20</i><i class="p38 L">0.94 **</i><i class="p38 L">0.95 **</i><i class="p37 L">0.92 **</i><i class="p18">0.45</i><i class="p27 L">0.67 **</i><i class="p30 L">0.76 **</i><i class="p27 L">0.67 **</i><i class="p23">0.57</i><i class="p26 L">0.65 **</i><i class="p18">0.45</i><i class="p18">0.45</i><i class="p21">0.53</i><i class="p26 L">0.65 **</i><i class="p26 L">0.65 **</i><i class="p30 L">0.76 **</i><i class="p30 L">0.76 **</i><i class="p36 L">0.90 **</i><i class="p35 L">0.88 **</i><i class="p34 L">0.86 **</i><i class="p34 L">0.84 **</i><i class="p40 D">1</i><i class="p36 L">0.91 **</i><i class="p32 L">0.80 **</i><i class="p36 L">0.91 **</i><i class="p35 L">0.88 **</i>
<i class="p28 L">0.71 **</i><i class="p30 L">0.76 **</i><i class="p22">0.55</i><i class="p30 L">0.76 **</i><i class="p23">0.57</i><i class="p24 L">0.61 **</i><i class="p8">0.20</i><i class="p35 L">0.88 **</i><i class="p36 L">0.91 **</i><i class="p38 L">0.95 **</i><i class="p22">0.55</i><i class="p28 L">0.69 **</i><i class="p30 L">0.76 **</i><i class="p28 L">0.69 **</i><i class="p24">0.59</i><i class="p26 L">0.65 **</i><i class="p20">0.51</i><i class="p20">0.51</i><i class="p19">0.47</i><i class="p20">0.51</i><i class="p21">0.53</i><i class="p30 L">0.74 **</i><i class="p30 L">0.76 **</i><i class="p37 L">0.92 **</i><i class="p35 L">0.88 **</i><i class="p34 L">0.84 **</i><i class="p28 L">0.69 **</i><i class="p36 L">0.91 **</i><i class="p40 D">1</i><i class="p30 L">0.74 **</i><i class="p35 L">0.88 **</i><i class="p36 L">0.89 **</i>
<i class="p28 L">0.70 **</i><i class="p10">0.25</i><i class="p3">0.07</i><i class="p30 L">0.74 **</i><i class="p10">0.25</i><i class="p20">0.51</i><i class="n3">-0.07</i><i class="p32 L">0.80 **</i><i class="p31 L">0.78 **</i><i class="p28 L">0.71 **</i><i class="p0">0.01</i><i class="p10">0.24</i><i class="p14">0.35</i><i class="p10">0.24</i><i class="p9">0.22</i><i class="p26 L">0.64 **</i><i class="p11">0.27</i><i class="p15">0.37</i><i class="p19">0.47</i><i class="p25 L">0.63 **</i><i class="p24">0.59</i><i class="p24 L">0.61 **</i><i class="p13">0.33</i><i class="p28 L">0.69 **</i><i class="p34 L">0.86 **</i><i class="p30 L">0.76 **</i><i class="p36 L">0.90 **</i><i class="p32 L">0.80 **</i><i class="p30 L">0.74 **</i><i class="p40 D">1</i><i class="p36 L">0.91 **</i><i class="p24">0.59</i>
<i class="p30 L">0.76 **</i><i class="p20">0.49</i><i class="p13">0.33</i><i class="p32 L">0.81 **</i><i class="p18">0.45</i><i class="p24">0.59</i><i class="p4">0.10</i><i class="p37 L">0.92 **</i><i class="p36 L">0.91 **</i><i class="p35 L">0.88 **</i><i class="p10">0.25</i><i class="p20">0.51</i><i class="p24 L">0.61 **</i><i class="p21">0.53</i><i class="p18">0.45</i><i class="p30 L">0.76 **</i><i class="p18">0.45</i><i class="p20">0.51</i><i class="p22">0.55</i><i class="p28 L">0.69 **</i><i class="p27 L">0.67 **</i><i class="p28 L">0.69 **</i><i class="p24 L">0.61 **</i><i class="p34 L">0.84 **</i><i class="p36 L">0.91 **</i><i class="p35 L">0.88 **</i><i class="p36 L">0.90 **</i><i class="p36 L">0.91 **</i><i class="p35 L">0.88 **</i><i class="p36 L">0.91 **</i><i class="p40 D">1</i><i class="p31 L">0.78 **</i>
<i class="p23">0.57</i><i class="p34 L">0.84 **</i><i class="p28 L">0.69 **</i><i class="p32 L">0.80 **</i><i class="p29 L">0.73 **</i><i class="p30 L">0.76 **</i><i class="p22">0.55</i><i class="p34 L">0.86 **</i><i class="p36 L">0.89 **</i><i class="p34 L">0.86 **</i><i class="p25 L">0.63 **</i><i class="p33 L">0.82 **</i><i class="p34 L">0.84 **</i><i class="p34 L">0.84 **</i><i class="p22">0.55</i><i class="p27 L">0.67 **</i><i class="p24">0.59</i><i class="p27 L">0.67 **</i><i class="p23">0.57</i><i class="p22">0.55</i><i class="p25 L">0.63 **</i><i class="p23">0.57</i><i class="p36 L">0.91 **</i><i class="p33 L">0.82 **</i><i class="p31 L">0.78 **</i><i class="p34 L">0.84 **</i><i class="p23">0.57</i><i class="p35 L">0.88 **</i><i class="p36 L">0.89 **</i><i class="p24">0.59</i><i class="p31 L">0.78 **</i><i class="p40 D">1</i>
</div>
<div class="big" style="left:36.8px;top:2010px;width:142.6px;line-height:258.3px">B</div>
<div class="ch" style="left:275.2px;top:2257.3px;width:247.3px;height:40px;line-height:40px;transform:rotate(-90deg) scale(1.042,1)"><span style="padding-left:5px">Variables</span></div>
<div class="ch" style="left:415.5px;top:2257.3px;width:247.3px;height:50.6px;line-height:50.6px;transform:rotate(-90deg) scale(1.057,1)"><span style="padding-left:5.2px">d18:1 (So)</span></div>
<div class="ch" style="left:466.1px;top:2257.3px;width:247.3px;height:50.6px;line-height:50.6px;transform:rotate(-90deg) scale(1.044,1)"><span style="padding-left:5.2px">d18:0 (Sa)</span></div>
<div class="ch" style="left:516.7px;top:2257.3px;width:247.3px;height:50.6px;line-height:50.6px;transform:rotate(-90deg) scale(1.088,1)"><span style="padding-left:5.2px">d18:0C16:0</span></div>
<div class="ch" style="left:567.3px;top:2257.3px;width:247.3px;height:50.6px;line-height:50.6px;transform:rotate(-90deg) scale(1.088,1)"><span style="padding-left:5.2px">d18:0C18:0</span></div>
<div class="ch" style="left:617.9px;top:2257.3px;width:247.3px;height:50.6px;line-height:50.6px;transform:rotate(-90deg) scale(1.088,1)"><span style="padding-left:5.2px">d18:0C22:0</span></div>
<div class="ch" style="left:668.5px;top:2257.3px;width:247.3px;height:50.6px;line-height:50.6px;transform:rotate(-90deg) scale(1.088,1)"><span style="padding-left:5.2px">d18:0C23:0</span></div>
<div class="ch" style="left:719.1px;top:2257.3px;width:247.3px;height:50.6px;line-height:50.6px;transform:rotate(-90deg) scale(1.088,1)"><span style="padding-left:5.2px">d18:0C24:0</span></div>
<div class="ch" style="left:769.7px;top:2257.3px;width:247.3px;height:50.6px;line-height:50.6px;transform:rotate(-90deg) scale(1.150,1)"><span style="padding-left:5.2px">18:1/14:0</span></div>
<div class="ch" style="left:820.3px;top:2257.3px;width:247.3px;height:50.6px;line-height:50.6px;transform:rotate(-90deg) scale(1.150,1)"><span style="padding-left:5.2px">18:1/16:0</span></div>
<div class="ch" style="left:870.9px;top:2257.3px;width:247.3px;height:50.6px;line-height:50.6px;transform:rotate(-90deg) scale(1.150,1)"><span style="padding-left:5.2px">18:1/18:0</span></div>
<div class="ch" style="left:921.5px;top:2257.3px;width:247.3px;height:50.6px;line-height:50.6px;transform:rotate(-90deg) scale(1.150,1)"><span style="padding-left:5.2px">18:1/20:0</span></div>
<div class="ch" style="left:972.1px;top:2257.3px;width:247.3px;height:50.6px;line-height:50.6px;transform:rotate(-90deg) scale(1.150,1)"><span style="padding-left:5.2px">18:1/22:0</span></div>
<div class="ch" style="left:1022.7px;top:2257.3px;width:247.3px;height:50.6px;line-height:50.6px;transform:rotate(-90deg) scale(1.150,1)"><span style="padding-left:5.2px">18:1/23:0</span></div>
<div class="ch" style="left:1073.3px;top:2257.3px;width:247.3px;height:50.6px;line-height:50.6px;transform:rotate(-90deg) scale(1.150,1)"><span style="padding-left:5.2px">18:1/24:0</span></div>
<div class="ch" style="left:1123.9px;top:2257.3px;width:247.3px;height:50.6px;line-height:50.6px;transform:rotate(-90deg) scale(1.132,1)"><span style="padding-left:5.2px">SM18:1/14:0</span></div>
<div class="ch" style="left:1174.5px;top:2257.3px;width:247.3px;height:50.6px;line-height:50.6px;transform:rotate(-90deg) scale(1.132,1)"><span style="padding-left:5.2px">SM18:1/16:0</span></div>
<div class="ch" style="left:1225.0px;top:2257.3px;width:247.3px;height:50.6px;line-height:50.6px;transform:rotate(-90deg) scale(1.132,1)"><span style="padding-left:5.2px">SM18:1/18:0</span></div>
<div class="ch" style="left:1275.6px;top:2257.3px;width:247.3px;height:50.6px;line-height:50.6px;transform:rotate(-90deg) scale(1.132,1)"><span style="padding-left:5.2px">SM18:1/20:0</span></div>
<div class="ch" style="left:1326.2px;top:2257.3px;width:247.3px;height:50.6px;line-height:50.6px;transform:rotate(-90deg) scale(1.132,1)"><span style="padding-left:5.2px">SM18:1/22:0</span></div>
<div class="ch" style="left:1376.8px;top:2257.3px;width:247.3px;height:50.6px;line-height:50.6px;transform:rotate(-90deg) scale(1.132,1)"><span style="padding-left:5.2px">SM18:1/23:0</span></div>
<div class="ch" style="left:1427.4px;top:2257.3px;width:247.3px;height:50.6px;line-height:50.6px;transform:rotate(-90deg) scale(1.132,1)"><span style="padding-left:5.2px">SM18:1/24:0</span></div>
<div class="ch" style="left:1478.0px;top:2257.3px;width:247.3px;height:50.6px;line-height:50.6px;transform:rotate(-90deg) scale(1.129,1)"><span style="padding-left:5.2px">Hex18:1/16:0</span></div>
<div class="ch" style="left:1528.6px;top:2257.3px;width:247.3px;height:50.6px;line-height:50.6px;transform:rotate(-90deg) scale(1.129,1)"><span style="padding-left:5.2px">Hex18:1/18:0</span></div>
<div class="ch" style="left:1579.2px;top:2257.3px;width:247.3px;height:50.6px;line-height:50.6px;transform:rotate(-90deg) scale(1.129,1)"><span style="padding-left:5.2px">Hex18:1/20:0</span></div>
<div class="ch" style="left:1629.8px;top:2257.3px;width:247.3px;height:50.6px;line-height:50.6px;transform:rotate(-90deg) scale(1.129,1)"><span style="padding-left:5.2px">Hex18:1/22:0</span></div>
<div class="ch" style="left:1680.4px;top:2257.3px;width:247.3px;height:50.6px;line-height:50.6px;transform:rotate(-90deg) scale(1.129,1)"><span style="padding-left:5.2px">Hex18:1/24:0</span></div>
<div class="ch" style="left:1731.0px;top:2257.3px;width:247.3px;height:50.6px;line-height:50.6px;transform:rotate(-90deg) scale(1.095,1)"><span style="padding-left:5.2px">Lac18:1/16:0</span></div>
<div class="ch" style="left:1781.6px;top:2257.3px;width:247.3px;height:50.6px;line-height:50.6px;transform:rotate(-90deg) scale(1.095,1)"><span style="padding-left:5.2px">Lac18:1/18:0</span></div>
<div class="ch" style="left:1832.2px;top:2257.3px;width:247.3px;height:50.6px;line-height:50.6px;transform:rotate(-90deg) scale(1.095,1)"><span style="padding-left:5.2px">Lac18:1/20:0</span></div>
<div class="ch" style="left:1882.8px;top:2257.3px;width:247.3px;height:50.6px;line-height:50.6px;transform:rotate(-90deg) scale(1.095,1)"><span style="padding-left:5.2px">Lac18:1/22:0</span></div>
<div class="ch" style="left:1933.4px;top:2257.3px;width:247.3px;height:50.6px;line-height:50.6px;transform:rotate(-90deg) scale(1.095,1)"><span style="padding-left:5.2px">Lac18:1/24:0</span></div>
<div class="ch" style="left:1984.0px;top:2257.3px;width:247.3px;height:50.6px;line-height:50.6px;transform:rotate(-90deg) scale(1.094,1)"><span style="padding-left:5.2px">ST18:1/24:0</span></div>
<div class="gl" style="left:33.8px;top:2258.3px;width:142.6px;line-height:106.7px">BS</div>
<div class="gl" style="left:33.8px;top:2365.0px;width:142.6px;line-height:266.8px">DHCer</div>
<div class="gl" style="left:33.8px;top:2631.9px;width:142.6px;line-height:373.6px">Cer</div>
<div class="gl" style="left:33.8px;top:3005.5px;width:142.6px;line-height:373.6px">SM</div>
<div class="gl" style="left:33.8px;top:3379.0px;width:142.6px;line-height:266.8px">HexCer</div>
<div class="gl" style="left:33.8px;top:3645.9px;width:142.6px;line-height:320.2px">LacCer</div>
<div class="rl" style="left:183.4px;top:2259.5px;line-height:53.4px;transform:scale(0.978,1.053)">d18:1 (So)</div>
<div class="rl" style="left:183.4px;top:2313.0px;line-height:53.4px;transform:scale(0.966,1.053)">d18:0 (Sa)</div>
<div class="rl" style="left:183.4px;top:2366.6px;line-height:53.4px;transform:scale(0.991,1.053)">d18:0C16:0</div>
<div class="rl" style="left:183.4px;top:2420.1px;line-height:53.4px;transform:scale(0.991,1.053)">d18:0C18:0</div>
<div class="rl" style="left:183.4px;top:2473.6px;line-height:53.4px;transform:scale(0.991,1.053)">d18:0C22:0</div>
<div class="rl" style="left:183.4px;top:2527.1px;line-height:53.4px;transform:scale(0.991,1.053)">d18:0C23:0</div>
<div class="rl" style="left:183.4px;top:2580.6px;line-height:53.4px;transform:scale(0.991,1.053)">d18:0C24:0</div>
<div class="rl" style="left:183.4px;top:2634.1px;line-height:53.4px;transform:scale(1.048,1.053)">18:1/14:0</div>
<div class="rl" style="left:183.4px;top:2687.6px;line-height:53.4px;transform:scale(1.048,1.053)">18:1/16:0</div>
<div class="rl" style="left:183.4px;top:2741.1px;line-height:53.4px;transform:scale(1.048,1.053)">18:1/18:0</div>
<div class="rl" style="left:183.4px;top:2794.5px;line-height:53.4px;transform:scale(1.048,1.053)">18:1/20:0</div>
<div class="rl" style="left:183.4px;top:2848.0px;line-height:53.4px;transform:scale(1.048,1.053)">18:1/22:0</div>
<div class="rl" style="left:183.4px;top:2901.4px;line-height:53.4px;transform:scale(1.048,1.053)">18:1/23:0</div>
<div class="rl" style="left:183.4px;top:2954.8px;line-height:53.4px;transform:scale(1.048,1.053)">18:1/24:0</div>
<div class="rl" style="left:183.4px;top:3008.2px;line-height:53.4px;transform:scale(1.031,1.053)">SM18:1/14:0</div>
<div class="rl" style="left:183.4px;top:3061.6px;line-height:53.4px;transform:scale(1.031,1.053)">SM18:1/16:0</div>
<div class="rl" style="left:183.4px;top:3115.0px;line-height:53.4px;transform:scale(1.031,1.053)">SM18:1/18:0</div>
<div class="rl" style="left:183.4px;top:3168.4px;line-height:53.4px;transform:scale(1.031,1.053)">SM18:1/20:0</div>
<div class="rl" style="left:183.4px;top:3221.7px;line-height:53.4px;transform:scale(1.031,1.053)">SM18:1/22:0</div>
<div class="rl" style="left:183.4px;top:3275.0px;line-height:53.4px;transform:scale(1.031,1.053)">SM18:1/23:0</div>
<div class="rl" style="left:183.4px;top:3328.3px;line-height:53.4px;transform:scale(1.031,1.053)">SM18:1/24:0</div>
<div class="rl" style="left:183.4px;top:3381.6px;line-height:53.4px;transform:scale(1.028,1.053)">Hex18:1/16:0</div>
<div class="rl" style="left:183.4px;top:3434.9px;line-height:53.4px;transform:scale(1.028,1.053)">Hex18:1/18:0</div>
<div class="rl" style="left:183.4px;top:3488.1px;line-height:53.4px;transform:scale(1.028,1.053)">Hex18:1/20:0</div>
<div class="rl" style="left:183.4px;top:3541.4px;line-height:53.4px;transform:scale(1.028,1.053)">Hex18:1/22:0</div>
<div class="rl" style="left:183.4px;top:3594.6px;line-height:53.4px;transform:scale(1.028,1.053)">Hex18:1/24:0</div>
<div class="rl" style="left:183.4px;top:3647.9px;line-height:53.4px;transform:scale(0.997,1.053)">Lac18:1/16:0</div>
<div class="rl" style="left:183.4px;top:3701.1px;line-height:53.4px;transform:scale(0.997,1.053)">Lac18:1/18:0</div>
<div class="rl" style="left:183.4px;top:3754.3px;line-height:53.4px;transform:scale(0.997,1.053)">Lac18:1/20:0</div>
<div class="rl" style="left:183.4px;top:3807.5px;line-height:53.4px;transform:scale(0.997,1.053)">Lac18:1/22:0</div>
<div class="rl" style="left:183.4px;top:3860.7px;line-height:53.4px;transform:scale(0.997,1.053)">Lac18:1/24:0</div>
<div class="rl" style="left:183.4px;top:3913.9px;line-height:53.4px;transform:scale(0.997,1.053)">ST18:1/24:0</div>
</section>
<div id="colorbar" style="position:absolute;left:2068px;top:1580px;width:77px;height:870px;box-sizing:border-box;border:3px solid #7c7c7c;background:linear-gradient(to bottom,#fdeeee 0%,#ffffff 50%,#e9f4fc 100%)">
<div style="position:absolute;left:6px;top:2px;right:6px;bottom:3px;background:linear-gradient(to right,rgba(0,0,0,.16),rgba(0,0,0,0) 16%,rgba(0,0,0,0) 84%,rgba(0,0,0,.16)),linear-gradient(to bottom,#c40000 0%,#ffffff 50%,#0674c4 100%)"></div>
</div>
<div class="cbl" style="left:2165px;top:1571.5px;font-family:'DejaVu Sans',sans-serif;font-size:50px;line-height:60px;transform-origin:0 50%;transform:scale(0.97,1)">-1</div>
<div class="cbl" style="left:2164.5px;top:1977.5px;font-size:50px;line-height:60px;transform-origin:0 50%;transform:scale(1.06,1)">0</div>
<div class="cbl" style="left:2166px;top:2388px;font-size:40px;line-height:46px;transform-origin:0 50%;transform:scale(0.88,1)">1</div>
</body></html>
